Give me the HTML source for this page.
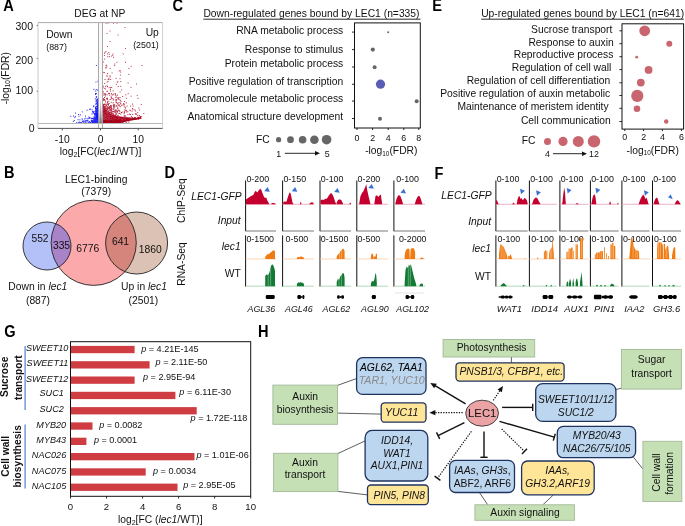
<!DOCTYPE html>
<html><head><meta charset="utf-8"><style>
html,body{margin:0;padding:0;background:#fff;}
svg{display:block;font-family:"Liberation Sans",sans-serif;will-change:transform;}
</style></head><body>
<svg width="685" height="526" viewBox="0 0 685 526">
<rect width="685" height="526" fill="#fff"/>
<text transform="translate(3.2,10.7) scale(1,1.12)" font-size="14.6" font-weight="bold" fill="#000">A</text>
<text transform="translate(3.9,178.0) scale(1,1.12)" font-size="14.6" font-weight="bold" fill="#000">B</text>
<text transform="translate(172.6,11.1) scale(1,1.12)" font-size="14.6" font-weight="bold" fill="#000">C</text>
<text transform="translate(164.4,177.5) scale(1,1.12)" font-size="14.6" font-weight="bold" fill="#000">D</text>
<text transform="translate(432.2,11.2) scale(1,1.12)" font-size="14.6" font-weight="bold" fill="#000">E</text>
<text transform="translate(434.4,178.9) scale(1,1.12)" font-size="14.6" font-weight="bold" fill="#000">F</text>
<text transform="translate(4.3,336.9) scale(1,1.12)" font-size="14.6" font-weight="bold" fill="#000">G</text>
<text transform="translate(258.0,336.7) scale(1,1.12)" font-size="14.6" font-weight="bold" fill="#000">H</text>
<text x="99.80" y="17.30" font-size="10.3" text-anchor="middle" fill="#111">DEG at NP</text>
<rect x="98.50" y="22.60" width="4.00" height="100.90" fill="#f8f8f8" stroke="none" stroke-width="1" rx="0"/>
<path d="M102.8,122.9 L102.8,103 L105,108 L108,112 L112,114.5 L117,116 L125,117.3 L133,117.8 L141.5,117.9 L141.5,118.7 L133,120.3 L125,121.8 L120,122.9 Z" fill="#a8001c"/>
<path d="M98.3,123 L98.3,100 L97.4,101 L97,108 L96.3,114 L95,118.5 L93,121.5 L91,123 Z" fill="#1010f0"/>
<path d="M104.0 107.8h1M104.1 121.2h1M106.5 108.3h1M103.8 122.6h1M105.1 112.1h1M117.3 119.1h1M104.4 115.8h1M105.2 115.0h1M108.9 119.7h1M102.9 115.5h1M109.3 118.1h1M110.8 112.3h1M107.8 107.9h1M103.5 122.3h1M103.2 119.0h1M110.6 106.0h1M111.0 97.8h1M106.2 117.2h1M103.0 122.0h1M109.1 119.7h1M106.2 121.4h1M107.0 122.6h1M111.0 114.7h1M109.1 121.1h1M107.9 122.6h1M104.1 120.0h1M102.4 122.0h1M120.1 122.3h1M104.0 99.6h1M110.8 114.0h1M106.2 122.1h1M108.0 119.6h1M107.0 122.6h1M108.0 111.3h1M119.6 122.6h1M105.2 118.7h1M108.2 118.4h1M121.8 122.6h1M109.3 121.9h1M107.3 120.5h1M106.3 116.4h1M107.7 120.6h1M108.5 117.5h1M105.3 120.0h1M124.3 121.1h1M106.0 114.7h1M103.5 121.8h1M120.9 112.5h1M103.7 115.7h1M112.2 118.0h1M118.2 119.6h1M107.0 121.0h1M109.9 115.3h1M104.0 110.6h1M106.0 122.6h1M104.8 122.2h1M109.6 120.9h1M111.0 93.9h1M106.6 115.5h1M111.6 111.6h1M109.4 116.9h1M108.0 120.0h1M106.0 112.8h1M108.2 116.3h1M110.7 121.7h1M108.1 115.4h1M106.0 122.6h1M110.3 111.1h1M104.2 122.6h1M109.9 122.6h1M108.5 121.1h1M105.6 121.0h1M115.5 117.6h1M104.6 116.5h1M106.8 98.2h1M108.2 115.0h1M109.8 120.9h1M107.1 102.1h1M103.9 120.5h1M105.3 120.9h1M105.3 120.9h1M108.6 120.9h1M114.4 120.4h1M108.3 120.5h1M103.0 117.2h1M103.9 119.3h1M105.2 114.7h1M104.1 122.6h1M102.8 116.9h1M106.2 118.3h1M104.6 113.1h1M106.9 121.6h1M104.9 95.9h1M105.5 113.3h1M112.7 102.9h1M113.0 111.6h1M114.9 116.6h1M104.9 120.3h1M103.8 115.5h1M105.5 116.3h1M110.0 119.7h1M105.8 108.8h1M106.5 116.3h1M109.3 122.3h1M104.5 109.4h1M102.7 120.2h1M124.4 116.1h1M112.3 119.8h1M108.0 121.4h1M103.5 114.8h1M105.8 110.5h1M106.9 117.2h1M105.4 117.8h1M105.6 115.3h1M103.8 122.6h1M104.4 119.3h1M108.4 122.3h1M118.4 110.1h1M126.3 117.8h1M104.3 121.9h1M102.5 110.5h1M105.7 113.3h1M110.8 119.3h1M102.9 108.2h1M102.5 115.2h1M112.6 120.9h1M112.9 119.0h1M108.6 121.6h1M105.3 121.4h1M125.6 122.6h1M108.3 115.3h1M104.0 121.2h1M104.7 119.6h1M102.9 122.3h1M103.3 122.6h1M104.1 116.8h1M102.6 119.3h1M120.9 119.7h1M108.9 108.7h1M109.2 107.9h1M104.9 119.3h1M116.4 116.6h1M102.4 110.4h1M104.4 114.6h1M105.6 116.3h1M105.9 114.4h1M108.6 103.5h1M104.3 122.2h1M104.2 104.4h1M116.8 111.4h1M116.7 112.3h1M110.8 115.5h1M113.5 121.3h1M108.3 122.2h1M109.3 120.3h1M109.3 122.1h1M107.6 120.1h1M116.3 110.1h1M107.7 113.5h1M111.3 122.4h1M118.7 121.4h1M113.5 119.6h1M103.2 119.9h1M104.9 114.1h1M110.2 116.6h1M112.3 113.2h1M115.4 116.6h1M108.7 121.4h1M117.3 103.3h1M110.6 122.6h1M102.7 106.5h1M104.8 114.5h1M104.7 116.5h1M103.1 121.1h1M104.7 120.6h1M105.4 104.3h1M114.5 122.6h1M102.8 117.2h1M108.7 108.1h1M113.2 121.5h1M106.8 115.9h1M108.4 116.9h1M115.8 122.4h1M106.4 122.5h1M112.7 109.5h1M113.7 117.9h1M106.6 118.7h1M108.5 121.6h1M102.6 119.7h1M124.7 121.0h1M104.2 116.8h1M105.6 119.0h1M106.6 113.2h1M104.1 121.5h1M107.4 120.3h1M111.2 108.5h1M106.5 116.9h1M104.3 120.0h1M102.9 119.7h1M104.0 122.5h1M106.2 118.4h1M102.9 117.2h1M108.8 118.8h1M106.0 113.4h1M116.4 111.1h1M103.4 105.2h1M103.4 122.6h1M112.8 122.6h1M102.7 107.6h1M123.9 112.4h1M128.3 122.1h1M110.4 119.0h1M104.1 117.4h1M102.4 119.5h1M110.1 118.4h1M105.5 122.6h1M106.2 114.8h1M106.2 122.6h1M104.3 120.9h1M102.8 122.3h1M107.8 105.8h1M105.1 120.8h1M109.1 112.2h1M105.6 116.0h1M106.0 122.1h1M107.4 108.4h1M119.3 111.2h1M116.8 119.8h1M103.7 118.2h1M104.8 119.5h1M103.3 118.7h1M102.9 121.1h1M106.7 122.1h1M105.3 112.2h1M111.7 121.3h1M107.0 101.9h1M123.7 119.7h1M105.2 121.7h1M113.5 121.5h1M108.8 122.2h1M102.6 112.0h1M104.0 114.6h1M108.8 121.8h1M109.4 116.2h1M104.9 117.5h1M103.0 122.1h1M105.1 121.2h1M104.8 114.8h1M102.7 112.4h1M106.4 117.5h1M104.0 117.1h1M104.3 121.7h1M104.5 114.5h1M114.8 122.0h1M112.1 115.4h1M103.6 122.3h1M113.4 106.5h1M105.9 122.0h1M111.1 120.9h1M118.1 119.7h1M115.9 117.6h1M111.4 117.7h1M102.9 118.6h1M105.4 116.9h1M107.6 120.5h1M105.5 121.4h1M111.5 118.9h1M110.8 110.6h1M116.7 120.9h1M105.7 120.5h1M105.6 121.0h1M107.2 120.8h1M112.7 120.3h1M102.5 113.4h1M115.8 113.3h1M103.2 122.6h1M109.9 107.0h1M107.1 121.9h1M105.0 119.7h1M109.9 118.3h1M105.7 115.1h1M108.4 93.4h1M106.0 122.5h1M105.7 117.8h1M114.9 118.0h1M112.5 122.6h1M103.2 100.0h1M105.5 121.9h1M102.5 120.3h1M107.9 120.8h1M109.6 122.0h1M106.1 114.2h1M111.2 113.5h1M108.7 112.5h1M103.4 119.5h1M104.5 119.0h1M115.0 118.3h1M112.5 121.7h1M103.7 113.4h1M119.9 118.2h1M103.4 118.9h1M116.7 119.7h1M102.6 106.9h1M102.6 117.5h1M114.6 121.8h1M105.5 111.2h1M103.2 117.9h1M105.2 117.6h1M104.2 122.0h1M103.1 120.0h1M106.7 110.7h1M114.8 115.4h1M109.1 106.8h1M103.4 118.3h1M123.0 122.0h1M110.5 119.3h1M121.0 121.9h1M114.5 120.1h1M106.0 121.7h1M102.9 122.3h1M109.4 121.6h1M109.8 119.1h1M104.0 114.3h1M103.8 120.8h1M108.1 122.6h1M106.2 121.4h1M124.6 107.2h1M115.0 122.6h1M106.2 117.9h1M105.6 120.0h1M111.1 116.9h1M105.3 122.3h1M105.3 112.4h1M109.6 118.1h1M104.2 120.0h1M103.5 121.1h1M106.6 114.8h1M102.6 113.7h1M118.3 110.7h1M105.5 119.7h1M107.8 120.2h1M114.4 122.6h1M103.5 121.1h1M105.4 121.5h1M106.0 122.3h1M102.6 121.6h1M105.0 118.9h1M105.0 121.1h1M102.4 122.4h1M102.8 120.9h1M113.2 114.7h1M108.0 104.3h1M105.0 112.0h1M102.8 122.2h1M103.9 115.3h1M105.0 116.0h1M106.7 115.0h1M106.8 120.2h1M103.3 115.6h1M103.1 122.4h1M107.5 122.0h1M105.5 118.7h1M103.3 104.5h1M103.1 110.2h1M102.9 119.2h1M107.2 116.7h1M113.2 105.0h1M104.7 121.4h1M113.5 122.3h1M106.6 119.8h1M104.6 107.6h1M111.3 122.6h1M106.8 99.0h1M107.1 120.8h1M104.9 121.6h1M104.6 113.3h1M104.7 117.4h1M116.0 118.6h1M108.3 121.0h1M104.1 120.0h1M140.6 116.9h1M126.4 118.9h1M127.2 120.4h1M132.4 119.4h1M114.3 121.3h1M126.3 120.3h1M125.0 120.8h1M140.0 117.3h1M124.2 120.5h1M131.6 118.0h1M116.7 121.4h1M137.6 118.2h1M134.8 117.6h1M140.5 116.6h1M137.4 117.2h1M119.4 121.5h1M137.9 117.5h1M134.8 119.3h1M124.0 120.4h1M134.1 117.7h1M134.9 118.3h1M139.7 116.7h1M139.2 117.4h1M137.8 117.4h1M128.8 118.8h1M135.8 119.1h1M121.5 119.9h1M137.8 119.2h1M128.0 120.6h1M124.0 120.0h1" stroke="#a8001c" stroke-width="1" fill="none"/>
<path d="M137.5 98.3h1M110.9 119.5h1M102.8 86.2h1M128.4 68.5h1M105.0 86.3h1M130.9 116.5h1M122.3 105.1h1M108.8 56.6h1M116.5 116.2h1M102.4 91.4h1M109.8 107.8h1M103.3 113.1h1M110.1 109.6h1M106.5 94.8h1M105.8 115.8h1M115.7 102.7h1M130.7 66.3h1M103.4 118.4h1M110.2 79.4h1M102.6 114.3h1M105.1 115.7h1M106.5 85.9h1M103.0 106.6h1M110.7 96.8h1M108.2 93.7h1M119.5 78.7h1M103.2 113.5h1M109.6 109.6h1M103.3 113.4h1M106.7 82.1h1M124.8 118.0h1M134.9 113.7h1M107.0 109.1h1M126.1 98.3h1M103.6 116.3h1M112.8 105.6h1M138.9 110.0h1M118.8 105.9h1M103.8 94.3h1M110.0 112.6h1M105.8 116.4h1M108.2 116.8h1M107.1 73.5h1M106.6 117.7h1M114.3 105.0h1M107.6 107.5h1M109.6 99.5h1M104.7 100.3h1M104.6 116.9h1M115.4 95.5h1M103.4 119.4h1M118.3 98.0h1M124.7 119.8h1M105.7 113.0h1M103.8 88.4h1M105.5 105.6h1M129.5 118.4h1M104.9 106.8h1M114.2 110.9h1M106.2 66.9h1M102.8 108.8h1M105.0 93.9h1M115.7 96.9h1M103.5 108.5h1M110.8 107.2h1M103.1 105.0h1M138.4 108.0h1M127.7 93.6h1M106.1 111.9h1M118.8 99.8h1M116.7 82.1h1M109.6 115.4h1M103.8 106.7h1M108.8 54.2h1M118.5 113.5h1M125.8 102.9h1M103.7 115.0h1M123.2 117.3h1M117.3 107.8h1M104.9 109.2h1M104.3 118.4h1M112.6 90.9h1M111.7 95.1h1M121.7 119.6h1M118.5 102.6h1M115.3 114.7h1M107.9 119.0h1M105.8 108.7h1M103.9 108.4h1M104.2 59.1h1M112.9 108.0h1M103.5 115.0h1M109.5 114.7h1M105.0 101.8h1M106.9 108.1h1M134.2 109.8h1M103.9 119.4h1M102.4 108.7h1M119.9 75.0h1M131.0 118.2h1M104.2 83.5h1M115.2 118.5h1M126.6 106.1h1M104.8 118.7h1M110.8 109.9h1M115.7 99.7h1M135.4 118.1h1M112.5 94.6h1M120.5 101.7h1M116.4 106.4h1M103.4 95.1h1M108.7 87.7h1M115.7 99.9h1M120.9 105.3h1M103.3 117.3h1M113.5 105.5h1M102.9 117.8h1M137.2 112.7h1M132.0 104.1h1M108.2 110.9h1M122.4 120.0h1M123.6 104.1h1M118.8 104.9h1M116.0 100.0h1M124.5 116.6h1M132.4 109.3h1M108.0 114.2h1M121.7 119.7h1M109.6 109.0h1M108.6 117.7h1M111.1 117.7h1M106.8 109.5h1M113.6 117.7h1M117.5 97.5h1M115.4 110.7h1M104.2 106.5h1M109.7 117.3h1M104.0 119.3h1M115.5 78.4h1M107.0 86.6h1M108.9 110.3h1M125.3 94.8h1M106.9 104.3h1M123.6 116.0h1M117.8 86.5h1M123.7 113.7h1M130.5 87.3h1M114.5 106.8h1M102.6 110.3h1M107.0 111.9h1M107.2 115.3h1M103.9 72.6h1M110.0 87.8h1M104.6 112.5h1M102.6 107.3h1M120.0 103.1h1M109.2 95.3h1M129.0 114.2h1M125.2 108.1h1M104.0 117.1h1M108.6 118.5h1M105.1 94.3h1M105.0 111.9h1M107.3 113.6h1M123.1 103.6h1M111.1 113.9h1M110.3 110.4h1M109.3 119.5h1M120.4 114.2h1M117.1 108.6h1M102.4 87.5h1M102.6 117.8h1M110.5 99.0h1M107.1 91.2h1M115.9 114.2h1M116.4 62.2h1M115.3 97.6h1M105.0 116.7h1M115.0 93.7h1M106.8 111.8h1M113.4 106.1h1M104.5 104.1h1M113.7 107.4h1M125.3 110.2h1M108.9 117.0h1M127.4 114.6h1M105.3 118.5h1M106.7 114.1h1M123.7 106.1h1M114.8 94.6h1M114.2 118.3h1M103.9 115.3h1M103.1 109.1h1M103.2 118.6h1M108.4 78.3h1M120.3 103.9h1M103.0 110.5h1M113.2 115.2h1M118.6 118.0h1M110.9 115.4h1M106.9 106.6h1M112.0 119.9h1M127.3 111.7h1M132.2 114.4h1M136.0 114.0h1M109.9 89.5h1M104.4 115.9h1M103.1 110.6h1M131.7 111.1h1M110.8 102.3h1M114.3 64.0h1M107.3 117.5h1M106.1 119.3h1M106.1 118.6h1M106.3 112.1h1M117.9 99.1h1M105.2 118.3h1M117.2 115.1h1M114.4 112.4h1M137.2 115.4h1M114.7 117.9h1M115.2 110.7h1M107.5 81.3h1M132.0 117.7h1M130.0 114.5h1M125.0 62.3h1M113.5 108.2h1M105.1 89.0h1M102.9 113.2h1M103.2 119.7h1M109.6 76.9h1M135.0 110.9h1M115.5 101.9h1M114.1 65.7h1M103.4 116.5h1M103.3 100.4h1M107.7 79.5h1M113.4 93.9h1M107.2 112.8h1M117.4 119.5h1M126.2 112.0h1M110.3 106.5h1M106.0 105.9h1M116.3 116.4h1M111.3 112.8h1M107.1 102.9h1M132.1 108.5h1M124.5 115.4h1M118.0 118.6h1M105.1 108.4h1M106.4 91.6h1M104.2 110.6h1M130.5 96.2h1M104.2 118.1h1M106.9 112.7h1M119.8 106.7h1M124.1 109.9h1M114.9 111.2h1M108.8 117.7h1M130.1 110.7h1M113.5 119.9h1M119.5 97.5h1M117.6 117.1h1M112.9 116.7h1M107.1 117.6h1M105.4 109.5h1M108.5 107.4h1M118.9 113.4h1M110.7 107.3h1M125.7 117.3h1M106.5 99.0h1M107.6 119.7h1M115.9 105.6h1M111.7 116.2h1M116.1 102.7h1M129.3 110.3h1M102.8 99.8h1M106.5 75.3h1M111.1 109.3h1M103.1 116.9h1M109.3 115.4h1M127.6 83.0h1M115.2 99.9h1M121.8 112.1h1M115.0 112.8h1M117.8 105.5h1M106.5 115.4h1M115.8 84.3h1M117.0 95.1h1M108.4 79.5h1M119.5 118.7h1M107.3 120.0h1M111.7 98.5h1M102.7 92.0h1M108.3 101.1h1M120.1 100.3h1M107.0 98.8h1M110.9 105.9h1M103.2 99.2h1M105.3 112.8h1M111.1 87.4h1M106.6 107.2h1M109.9 91.1h1M111.8 114.1h1M106.5 104.0h1M123.6 104.5h1M121.2 89.9h1M117.5 104.3h1M109.6 107.4h1M136.7 95.6h1M123.7 111.6h1M111.8 111.2h1M107.5 114.1h1M105.0 109.9h1M106.2 98.5h1M103.7 104.3h1M113.0 99.0h1M102.5 113.8h1M111.0 115.1h1M117.4 98.7h1M107.7 115.7h1M107.8 109.0h1M120.3 81.5h1M104.0 97.5h1M122.1 96.5h1M104.6 79.5h1M114.6 109.6h1M106.2 119.5h1M121.3 119.9h1M121.5 118.5h1M123.3 118.6h1M125.3 110.8h1M117.9 115.9h1M113.7 104.6h1M117.4 81.8h1M124.0 101.6h1M113.1 113.9h1M104.6 114.6h1M128.3 74.4h1M105.8 105.4h1M110.2 105.5h1M109.0 93.6h1M119.3 113.4h1M102.8 98.5h1M105.2 106.6h1M129.9 106.1h1M128.9 117.8h1M126.1 110.7h1M138.9 115.5h1M119.6 91.9h1M118.7 71.0h1M110.7 119.3h1M132.6 106.0h1M107.8 117.6h1M114.3 111.6h1M135.5 114.5h1M105.7 109.8h1M120.3 86.3h1M103.6 93.5h1M112.7 100.1h1" stroke="#bb3048" stroke-width="1" fill="none"/>
<path d="M107.2 56.8h1M106.2 65.2h1M104.6 52.4h1M112.1 55.3h1M105.6 68.0h1M109.6 75.7h1M106.6 76.6h1M104.0 53.3h1M102.8 72.4h1M109.7 68.5h1M105.2 67.6h1M105.4 65.6h1M111.6 72.9h1M111.1 56.1h1M108.2 52.6h1M120.2 72.1h1M103.1 62.1h1M103.9 55.5h1M122.7 53.9h1M119.7 70.6h1M113.0 57.3h1M105.4 51.5h1M105.5 23.2h1M107.5 23.2h1M113.0 23.2h1M116.5 23.2h1M124.5 27.5h1M109.5 31.0h1M106.5 33.5h1M117.5 35.0h1M109.5 41.5h1M107.0 46.5h1M125.0 48.5h1M107.0 54.0h1M112.5 54.0h1M141.5 65.5h1M136.0 84.0h1M143.3 113.5h1M140.8 104.5h1" stroke="#c04058" stroke-width="1" fill="none"/>
<path d="M87.7 122.3h1M94.2 120.3h1M96.0 114.9h1M96.2 121.8h1M96.7 109.9h1M94.5 113.6h1M96.3 120.5h1M96.9 109.9h1M94.0 119.7h1M96.5 116.5h1M96.5 113.4h1M97.0 122.6h1M96.2 120.8h1M86.2 120.6h1M97.0 107.2h1M95.9 111.7h1M97.3 122.6h1M97.5 108.1h1M96.6 121.0h1M97.5 112.0h1M97.1 104.2h1M97.5 121.8h1M95.1 121.1h1M96.3 112.4h1M95.7 120.6h1M97.2 122.6h1M95.7 121.0h1M97.0 109.1h1M88.9 117.8h1M96.4 118.2h1M95.4 122.6h1M96.6 117.9h1M97.6 116.6h1M89.7 109.1h1M96.7 119.2h1M92.5 122.6h1M96.1 117.1h1M96.3 118.4h1M93.0 121.8h1M96.3 113.7h1M95.5 122.3h1M87.2 120.8h1M97.4 122.6h1M95.4 119.6h1M96.9 114.6h1M96.7 122.5h1M93.3 120.7h1M97.6 119.7h1M96.9 107.0h1M96.0 122.6h1M86.6 110.2h1M96.6 116.9h1M96.4 103.9h1M95.7 108.1h1M92.0 122.6h1M96.7 111.4h1M97.5 119.9h1M94.3 119.0h1M96.6 99.3h1M97.4 116.0h1M96.6 116.5h1M95.2 122.6h1M97.7 105.7h1M95.6 121.2h1M95.1 113.3h1M97.0 119.4h1M93.3 118.5h1M93.5 116.9h1M96.8 121.9h1M97.6 116.8h1M95.0 118.5h1M97.1 122.5h1M96.4 115.1h1M97.1 121.3h1M92.0 118.5h1M95.5 107.0h1M93.2 111.5h1M95.0 119.3h1M96.0 108.6h1M96.2 108.9h1M96.6 122.6h1M94.0 121.8h1M92.3 118.3h1M96.4 122.0h1M96.0 120.6h1M95.2 121.5h1M94.6 111.1h1M93.3 122.3h1M96.7 118.1h1M96.2 110.1h1M95.3 111.4h1M96.9 109.1h1M96.7 113.5h1M95.8 106.4h1M96.8 121.5h1M96.3 111.1h1M95.0 107.8h1M97.1 111.6h1M97.1 122.5h1M97.2 116.6h1M95.1 112.2h1M95.4 112.0h1M95.8 122.2h1M96.6 115.9h1M96.8 113.7h1M96.2 103.7h1M95.7 118.8h1M96.8 111.6h1M97.3 121.5h1M95.9 114.2h1M97.2 118.4h1M94.7 121.7h1M94.8 117.2h1M97.6 111.2h1M91.5 113.9h1M95.6 113.9h1M96.8 106.5h1M95.3 108.7h1M93.3 105.8h1M93.8 113.5h1M95.3 111.2h1M96.6 122.6h1M97.4 116.5h1M97.4 99.6h1M97.0 121.6h1M93.2 118.2h1M91.7 121.2h1M97.4 114.7h1M97.1 115.6h1M97.5 118.6h1M96.8 111.6h1M96.9 120.7h1M97.1 99.6h1M97.5 119.6h1M97.5 110.0h1M96.9 118.5h1M89.4 109.4h1M96.1 102.0h1M96.9 121.4h1M91.6 109.9h1M94.0 121.3h1M91.0 120.2h1M94.2 120.0h1M95.9 114.2h1M95.2 108.5h1M93.1 106.7h1M95.7 114.4h1M96.0 121.5h1M97.0 120.3h1M96.0 122.2h1M96.6 120.7h1M96.3 114.0h1M97.4 112.9h1M97.5 115.1h1M96.4 100.2h1M96.4 119.9h1M95.5 122.0h1M97.1 112.7h1M97.4 111.7h1M97.1 112.1h1M97.1 118.1h1M93.2 112.5h1M97.0 109.8h1M97.0 121.9h1M93.5 121.6h1M96.3 114.7h1M97.5 122.4h1M97.4 119.0h1M96.4 110.2h1M96.7 120.3h1M95.7 100.1h1M94.3 118.3h1M96.3 120.7h1M92.2 111.8h1M97.7 117.7h1M92.5 120.1h1M85.2 120.9h1M97.0 112.1h1M94.4 115.1h1M95.1 122.0h1M96.0 116.7h1M91.8 120.9h1M94.1 122.3h1M97.4 119.2h1M96.1 109.8h1M97.4 122.2h1M96.8 120.0h1M96.7 122.6h1M97.2 120.7h1M93.5 121.7h1M96.2 122.6h1M96.5 121.9h1M95.3 114.2h1M96.7 122.6h1M95.1 108.5h1M96.6 122.6h1M96.8 117.1h1M95.9 96.7h1M95.1 122.6h1M96.4 109.4h1M96.9 116.7h1M97.7 116.5h1M97.5 118.3h1M96.3 120.6h1M95.1 104.1h1M96.2 117.6h1M97.0 122.6h1M94.1 120.5h1M95.1 122.6h1M97.5 122.6h1M95.2 93.8h1M95.5 101.7h1M94.9 121.1h1M94.9 115.8h1M95.5 122.6h1M96.2 119.1h1M97.3 116.7h1M91.6 121.0h1M84.7 122.4h1M94.2 114.2h1M94.4 122.6h1M95.0 93.7h1M94.2 114.8h1M97.0 122.0h1M97.0 119.2h1M96.4 119.7h1M97.6 116.6h1M96.2 118.9h1M96.5 115.4h1M96.5 113.7h1" stroke="#1515f5" stroke-width="1" fill="none"/>
<path d="M95.4 118.1h1M88.4 117.0h1M94.5 121.0h1M76.2 122.6h1M96.1 118.7h1M96.8 121.5h1M79.7 122.6h1M89.9 122.3h1M96.0 121.0h1M72.9 121.4h1M95.7 122.3h1M97.6 122.6h1M94.0 117.4h1M93.7 119.3h1M95.6 122.3h1M81.8 121.7h1M93.3 119.5h1M77.5 119.7h1M92.0 111.9h1M90.5 122.6h1M85.0 116.1h1M79.4 119.8h1M87.4 120.1h1M73.0 116.1h1M97.5 120.8h1M94.8 121.0h1M79.1 122.1h1M90.7 120.3h1M80.0 114.9h1M75.0 113.1h1M95.1 122.1h1M78.5 116.2h1M89.0 121.8h1M97.2 121.7h1M85.2 118.3h1M85.6 122.6h1M88.9 118.4h1M95.9 122.6h1M96.2 118.3h1M74.9 116.4h1M79.6 122.6h1M83.4 121.2h1M81.8 119.9h1M91.7 120.8h1M81.8 111.9h1M93.3 121.3h1M89.9 122.6h1M97.7 120.0h1M94.2 119.3h1M86.8 120.8h1M81.7 118.9h1M95.4 119.3h1M81.2 122.5h1M94.3 116.9h1M91.8 120.6h1M95.2 118.8h1M88.8 121.8h1M95.8 121.4h1M91.3 121.4h1M86.7 118.7h1M94.8 115.5h1M93.4 113.7h1M94.8 119.5h1M73.8 120.5h1M84.1 119.0h1M85.5 121.1h1M88.4 122.4h1M91.7 121.7h1M88.4 118.4h1M84.6 121.2h1M88.9 121.5h1M90.3 117.8h1M93.9 121.8h1M77.9 122.3h1M92.3 122.0h1M95.5 113.9h1M94.6 120.8h1M90.9 118.5h1M82.1 121.4h1M91.1 121.5h1M83.4 122.0h1M94.0 120.4h1M83.4 120.9h1M82.9 122.1h1M93.2 122.3h1M93.0 122.5h1M74.3 117.6h1M96.5 121.0h1M78.1 114.5h1M97.2 121.1h1M96.3 103.7h1M96.8 108.0h1M97.3 107.1h1M96.3 112.4h1M95.2 91.1h1M96.4 106.2h1M96.2 97.1h1M95.2 94.5h1M95.3 110.9h1M96.9 109.6h1M97.0 99.0h1M96.5 110.3h1M97.5 81.2h1M97.2 112.5h1M97.0 103.2h1M96.7 112.0h1M97.4 104.4h1M95.9 108.7h1M97.1 90.2h1M95.6 109.6h1M94.9 107.3h1M95.9 93.4h1M95.3 109.1h1M94.8 98.8h1M95.9 100.6h1M96.8 111.4h1M97.3 102.1h1M95.8 97.2h1M97.2 101.5h1M96.1 112.2h1M96.9 102.4h1M97.6 100.9h1M95.8 89.5h1M95.5 82.1h1M95.6 110.0h1M97.5 107.9h1M95.7 109.8h1M95.0 111.3h1M93.4 89.3h1M96.9 112.0h1" stroke="#3030f5" stroke-width="1" fill="none"/>
<path d="M95.9 65.5h1" stroke="#2a2af5" stroke-width="1" fill="none"/>
<path d="M70.3 116.3h1" stroke="#3a3af5" stroke-width="1" fill="none"/>
<path d="M99.2,123.4 L100.3,100 L100.8,100 L101.9,123.4 Z" fill="url(#gband)"/>
<line x1="38.00" y1="22.60" x2="162.60" y2="22.60" stroke="#aaaaaa" stroke-width="1"/>
<line x1="162.60" y1="22.60" x2="162.60" y2="128.40" stroke="#d0d0d0" stroke-width="1"/>
<line x1="38.00" y1="22.60" x2="38.00" y2="128.40" stroke="#c8c8c8" stroke-width="1"/>
<line x1="98.50" y1="22.60" x2="98.50" y2="128.40" stroke="#a0a0a0" stroke-width="0.9"/>
<line x1="102.50" y1="22.60" x2="102.50" y2="128.40" stroke="#a0a0a0" stroke-width="0.9"/>
<line x1="38.00" y1="123.50" x2="162.60" y2="123.50" stroke="#b8b8b8" stroke-width="1"/>
<line x1="38.00" y1="128.40" x2="162.60" y2="128.40" stroke="#555" stroke-width="1"/>
<line x1="36.60" y1="25.40" x2="38.00" y2="25.40" stroke="#888" stroke-width="1"/>
<line x1="36.60" y1="58.40" x2="38.00" y2="58.40" stroke="#888" stroke-width="1"/>
<line x1="36.60" y1="91.30" x2="38.00" y2="91.30" stroke="#888" stroke-width="1"/>
<line x1="62.30" y1="128.40" x2="62.30" y2="130.40" stroke="#555" stroke-width="1"/>
<line x1="100.50" y1="128.40" x2="100.50" y2="130.40" stroke="#555" stroke-width="1"/>
<line x1="138.20" y1="128.40" x2="138.20" y2="130.40" stroke="#555" stroke-width="1"/>
<text x="33.00" y="29.90" font-size="10.5" text-anchor="end" fill="#111">300</text>
<text x="33.00" y="64.00" font-size="10.5" text-anchor="end" fill="#111">200</text>
<text x="33.00" y="93.80" font-size="10.5" text-anchor="end" fill="#111">100</text>
<text x="34.60" y="131.90" font-size="10.5" text-anchor="end" fill="#111">0</text>
<text x="62.30" y="142.60" font-size="10.3" text-anchor="middle" fill="#111">-10</text>
<text x="100.50" y="142.60" font-size="10.3" text-anchor="middle" fill="#111">0</text>
<text x="138.20" y="142.60" font-size="10.3" text-anchor="middle" fill="#111">10</text>
<text x="100.50" y="155.20" font-size="10.3" text-anchor="middle" fill="#111">log<tspan font-size="7" dy="2">2</tspan><tspan dy="-2">[FC(</tspan><tspan font-style="italic">lec1</tspan>/WT)]</text>
<text transform="translate(8.6,78.2) rotate(-90)" font-size="10.3" text-anchor="middle" fill="#111">-log<tspan font-size="6.4" dy="1.2">10</tspan><tspan dy="-1.2">(FDR)</tspan></text>
<text x="46.20" y="37.60" font-size="10.3" text-anchor="start" fill="#111">Down</text>
<text x="46.20" y="49.80" font-size="8.9" text-anchor="start" fill="#111">(887)</text>
<text x="158.80" y="36.00" font-size="10.3" text-anchor="end" fill="#111">Up</text>
<text x="158.80" y="47.80" font-size="8.9" text-anchor="end" fill="#111">(2501)</text>
<defs><clipPath id="cpk"><circle cx="93.7" cy="242.8" r="42.6"/></clipPath><linearGradient id="gband" x1="0" y1="0" x2="0" y2="1"><stop offset="0" stop-color="#e0e0e0"/><stop offset="1" stop-color="#707070"/></linearGradient></defs>
<circle cx="93.70" cy="242.80" r="42.60" fill="#fca9ac" stroke="none" stroke-width="1"/>
<circle cx="47.00" cy="246.00" r="24.00" fill="#b4c1f8" stroke="none" stroke-width="1"/>
<circle cx="136.60" cy="243.00" r="31.00" fill="#dcc2b4" stroke="none" stroke-width="1"/>
<circle cx="47.00" cy="246.00" r="24.00" fill="#a883c8" stroke="none" stroke-width="1" clip-path="url(#cpk)"/>
<circle cx="136.60" cy="243.00" r="31.00" fill="#d5857c" stroke="none" stroke-width="1" clip-path="url(#cpk)"/>
<circle cx="93.70" cy="242.80" r="42.60" fill="none" stroke="#222" stroke-width="0.9"/>
<circle cx="47.00" cy="246.00" r="24.00" fill="none" stroke="#222" stroke-width="0.9"/>
<circle cx="136.60" cy="243.00" r="31.00" fill="none" stroke="#222" stroke-width="0.9"/>
<text x="96.20" y="182.50" font-size="10.3" text-anchor="middle" fill="#111">LEC1-binding</text>
<text x="96.20" y="194.80" font-size="10.3" text-anchor="middle" fill="#111">(7379)</text>
<text x="40.00" y="241.60" font-size="10.3" text-anchor="middle" fill="#111">552</text>
<text x="61.50" y="248.80" font-size="10.3" text-anchor="middle" fill="#111">335</text>
<text x="87.70" y="251.80" font-size="10.3" text-anchor="middle" fill="#111">6776</text>
<text x="120.50" y="245.30" font-size="10.3" text-anchor="middle" fill="#111">641</text>
<text x="150.20" y="253.30" font-size="10.3" text-anchor="middle" fill="#111">1860</text>
<text x="37.80" y="290.00" font-size="10.3" text-anchor="middle" fill="#111">Down in <tspan font-style="italic">lec1</tspan></text>
<text x="38.00" y="303.60" font-size="10.3" text-anchor="middle" fill="#111">(887)</text>
<text x="144.00" y="290.00" font-size="10.3" text-anchor="middle" fill="#111">Up in <tspan font-style="italic">lec1</tspan></text>
<text x="143.40" y="303.60" font-size="10.3" text-anchor="middle" fill="#111">(2501)</text>
<text x="203.40" y="16.80" font-size="10.3" text-anchor="start" fill="#111">Down-regulated genes bound by LEC1 (n=335)</text>
<line x1="203.40" y1="19.20" x2="420.50" y2="19.20" stroke="#111" stroke-width="0.9"/>
<text x="343.20" y="33.90" font-size="10.3" text-anchor="end" fill="#111">RNA metabolic process</text>
<text x="343.20" y="52.60" font-size="10.3" text-anchor="end" fill="#111">Response to stimulus</text>
<text x="343.20" y="67.30" font-size="10.3" text-anchor="end" fill="#111">Protein metabolic process</text>
<text x="343.20" y="84.80" font-size="10.3" text-anchor="end" fill="#111">Positive regulation of transcription</text>
<text x="343.20" y="102.40" font-size="10.3" text-anchor="end" fill="#111">Macromolecule metabolic process</text>
<text x="343.20" y="119.60" font-size="10.3" text-anchor="end" fill="#111">Anatomical structure development</text>
<rect x="354.50" y="22.90" width="65.80" height="105.10" fill="none" stroke="#111" stroke-width="1" rx="0"/>
<line x1="352.00" y1="32.10" x2="354.50" y2="32.10" stroke="#111" stroke-width="0.9"/>
<line x1="352.00" y1="49.60" x2="354.50" y2="49.60" stroke="#111" stroke-width="0.9"/>
<line x1="352.00" y1="67.00" x2="354.50" y2="67.00" stroke="#111" stroke-width="0.9"/>
<line x1="352.00" y1="84.30" x2="354.50" y2="84.30" stroke="#111" stroke-width="0.9"/>
<line x1="352.00" y1="101.10" x2="354.50" y2="101.10" stroke="#111" stroke-width="0.9"/>
<line x1="352.00" y1="118.50" x2="354.50" y2="118.50" stroke="#111" stroke-width="0.9"/>
<circle cx="388.20" cy="32.30" r="1.00" fill="#666" stroke="none" stroke-width="1"/>
<circle cx="372.80" cy="49.60" r="2.10" fill="#666" stroke="none" stroke-width="1"/>
<circle cx="374.60" cy="67.20" r="2.00" fill="#666" stroke="none" stroke-width="1"/>
<circle cx="380.50" cy="84.20" r="4.60" fill="#5a5db6" stroke="none" stroke-width="1"/>
<circle cx="416.70" cy="101.30" r="2.00" fill="#666" stroke="none" stroke-width="1"/>
<circle cx="380.00" cy="118.80" r="2.00" fill="#666" stroke="none" stroke-width="1"/>
<line x1="357.00" y1="128.00" x2="357.00" y2="130.00" stroke="#111" stroke-width="0.9"/>
<text x="357.00" y="140.60" font-size="8.9" text-anchor="middle" fill="#111">0</text>
<line x1="372.60" y1="128.00" x2="372.60" y2="130.00" stroke="#111" stroke-width="0.9"/>
<text x="372.60" y="140.60" font-size="8.9" text-anchor="middle" fill="#111">2</text>
<line x1="388.20" y1="128.00" x2="388.20" y2="130.00" stroke="#111" stroke-width="0.9"/>
<text x="388.20" y="140.60" font-size="8.9" text-anchor="middle" fill="#111">4</text>
<line x1="403.80" y1="128.00" x2="403.80" y2="130.00" stroke="#111" stroke-width="0.9"/>
<text x="403.80" y="140.60" font-size="8.9" text-anchor="middle" fill="#111">6</text>
<line x1="418.80" y1="128.00" x2="418.80" y2="130.00" stroke="#111" stroke-width="0.9"/>
<text x="418.80" y="140.60" font-size="8.9" text-anchor="middle" fill="#111">8</text>
<text x="391.30" y="154.30" font-size="10.3" text-anchor="middle" fill="#111">-log<tspan font-size="6.4" dy="1.2">10</tspan><tspan dy="-1.2">(FDR)</tspan></text>
<text x="256.00" y="143.30" font-size="10.3" text-anchor="start" fill="#111">FC</text>
<circle cx="278.60" cy="139.70" r="2.60" fill="#666" stroke="none" stroke-width="1"/>
<circle cx="290.50" cy="139.70" r="3.40" fill="#666" stroke="none" stroke-width="1"/>
<circle cx="302.60" cy="139.70" r="3.80" fill="#666" stroke="none" stroke-width="1"/>
<circle cx="314.40" cy="139.70" r="4.30" fill="#666" stroke="none" stroke-width="1"/>
<circle cx="326.60" cy="139.70" r="4.80" fill="#666" stroke="none" stroke-width="1"/>
<text x="278.60" y="156.60" font-size="8.9" text-anchor="middle" fill="#111">1</text>
<text x="327.20" y="156.60" font-size="8.9" text-anchor="middle" fill="#111">5</text>
<line x1="284.80" y1="153.30" x2="316.00" y2="153.30" stroke="#111" stroke-width="0.9"/>
<path d="M315,151.1 L320,153.3 L315,155.5 Z" fill="#111"/>
<text x="481.20" y="16.80" font-size="10.3" text-anchor="start" fill="#111">Up-regulated genes bound by LEC1 (n=641)</text>
<line x1="481.20" y1="19.20" x2="683.80" y2="19.20" stroke="#111" stroke-width="0.9"/>
<text x="612.40" y="32.50" font-size="10.3" text-anchor="end" fill="#111">Sucrose transport</text>
<text x="613.70" y="45.80" font-size="10.3" text-anchor="end" fill="#111">Response to auxin</text>
<text x="613.30" y="57.60" font-size="10.3" text-anchor="end" fill="#111">Reproductive process</text>
<text x="611.30" y="71.00" font-size="10.3" text-anchor="end" fill="#111">Regulation of cell wall</text>
<text x="610.20" y="84.10" font-size="10.3" text-anchor="end" fill="#111">Regulation of cell differentiation</text>
<text x="610.20" y="96.90" font-size="10.3" text-anchor="end" fill="#111">Positive regulation of auxin metabolic</text>
<text x="608.60" y="109.70" font-size="10.3" text-anchor="end" fill="#111">Maintenance of meristem identity</text>
<text x="610.80" y="123.50" font-size="10.3" text-anchor="end" fill="#111">Cell communication</text>
<rect x="622.00" y="23.80" width="61.60" height="105.30" fill="none" stroke="#111" stroke-width="1" rx="0"/>
<line x1="619.40" y1="30.80" x2="622.00" y2="30.80" stroke="#111" stroke-width="0.9"/>
<line x1="619.40" y1="43.70" x2="622.00" y2="43.70" stroke="#111" stroke-width="0.9"/>
<line x1="619.40" y1="56.70" x2="622.00" y2="56.70" stroke="#111" stroke-width="0.9"/>
<line x1="619.40" y1="69.60" x2="622.00" y2="69.60" stroke="#111" stroke-width="0.9"/>
<line x1="619.40" y1="82.80" x2="622.00" y2="82.80" stroke="#111" stroke-width="0.9"/>
<line x1="619.40" y1="95.50" x2="622.00" y2="95.50" stroke="#111" stroke-width="0.9"/>
<line x1="619.40" y1="108.30" x2="622.00" y2="108.30" stroke="#111" stroke-width="0.9"/>
<line x1="619.40" y1="121.50" x2="622.00" y2="121.50" stroke="#111" stroke-width="0.9"/>
<circle cx="644.70" cy="30.80" r="5.40" fill="#c9656f" stroke="none" stroke-width="1"/>
<circle cx="669.30" cy="43.70" r="3.00" fill="#c9656f" stroke="none" stroke-width="1"/>
<circle cx="636.70" cy="57.20" r="1.40" fill="#c9656f" stroke="none" stroke-width="1"/>
<circle cx="648.60" cy="69.90" r="3.90" fill="#c9656f" stroke="none" stroke-width="1"/>
<circle cx="640.80" cy="82.60" r="3.90" fill="#c9656f" stroke="none" stroke-width="1"/>
<circle cx="637.30" cy="95.90" r="6.10" fill="#c9656f" stroke="none" stroke-width="1"/>
<circle cx="637.00" cy="108.80" r="3.30" fill="#c9656f" stroke="none" stroke-width="1"/>
<circle cx="666.20" cy="121.50" r="2.20" fill="#c9656f" stroke="none" stroke-width="1"/>
<line x1="624.80" y1="129.10" x2="624.80" y2="131.10" stroke="#111" stroke-width="0.9"/>
<text x="624.80" y="139.50" font-size="8.9" text-anchor="middle" fill="#111">0</text>
<line x1="643.60" y1="129.10" x2="643.60" y2="131.10" stroke="#111" stroke-width="0.9"/>
<text x="643.60" y="139.50" font-size="8.9" text-anchor="middle" fill="#111">2</text>
<line x1="662.40" y1="129.10" x2="662.40" y2="131.10" stroke="#111" stroke-width="0.9"/>
<text x="662.40" y="139.50" font-size="8.9" text-anchor="middle" fill="#111">4</text>
<line x1="681.40" y1="129.10" x2="681.40" y2="131.10" stroke="#111" stroke-width="0.9"/>
<text x="681.40" y="139.50" font-size="8.9" text-anchor="middle" fill="#111">6</text>
<text x="652.70" y="153.60" font-size="10.3" text-anchor="middle" fill="#111">-log<tspan font-size="6.4" dy="1.2">10</tspan><tspan dy="-1.2">(FDR)</tspan></text>
<text x="521.70" y="144.20" font-size="10.3" text-anchor="start" fill="#111">FC</text>
<circle cx="547.50" cy="141.40" r="3.50" fill="#c9656f" stroke="none" stroke-width="1"/>
<circle cx="563.00" cy="141.40" r="4.60" fill="#c9656f" stroke="none" stroke-width="1"/>
<circle cx="578.30" cy="141.40" r="5.50" fill="#c9656f" stroke="none" stroke-width="1"/>
<circle cx="594.00" cy="141.40" r="6.20" fill="#c9656f" stroke="none" stroke-width="1"/>
<text x="547.50" y="157.20" font-size="8.9" text-anchor="middle" fill="#111">4</text>
<text x="594.00" y="157.20" font-size="8.9" text-anchor="middle" fill="#111">12</text>
<line x1="553.00" y1="153.70" x2="583.00" y2="153.70" stroke="#111" stroke-width="0.9"/>
<path d="M582,151.5 L587,153.7 L582,155.9 Z" fill="#111"/>
<text transform="translate(184.6,200.7) rotate(-90)" font-size="10.3" text-anchor="middle" fill="#111">ChIP-Seq</text>
<text transform="translate(184.6,264.0) rotate(-90)" font-size="10.3" text-anchor="middle" fill="#111">RNA-Seq</text>
<text x="241.60" y="200.00" font-size="10.3" text-anchor="end" fill="#111" font-style="italic">LEC1-GFP</text>
<text x="240.70" y="223.60" font-size="10.3" text-anchor="end" fill="#111" font-style="italic">Input</text>
<text x="240.70" y="250.40" font-size="10.3" text-anchor="end" fill="#111" font-style="italic">lec1</text>
<text x="240.70" y="277.30" font-size="10.3" text-anchor="end" fill="#111">WT</text>
<line x1="245.60" y1="180.50" x2="245.60" y2="231.20" stroke="#111" stroke-width="1"/>
<line x1="245.60" y1="204.30" x2="276.00" y2="204.30" stroke="#eaa0b4" stroke-width="0.8"/>
<line x1="245.60" y1="231.00" x2="276.00" y2="231.00" stroke="#6a6a6a" stroke-width="0.9"/>
<text x="246.40" y="182.40" font-size="8.9" text-anchor="start" fill="#111">0-200</text>
<path d="M246.00,204.30 L246.00,199.50 L248.10,198.00 L251.10,196.00 L253.20,195.00 L254.70,191.90 L255.70,190.80 L257.30,192.40 L258.80,190.30 L260.30,188.80 L261.30,189.80 L262.40,192.90 L263.40,195.40 L264.40,197.50 L266.50,198.00 L267.00,200.00 L268.50,202.60 L269.00,203.80 L269.00,204.30 Z" fill="#c4002f"/>
<path d="M271.50,204.30 L271.50,203.00 L273.50,202.90 L275.50,203.40 L275.50,204.30 Z" fill="#c4002f"/>
<path d="M0,-2.5 L2.8,1.9 L-2.8,1.9 Z" transform="translate(267.30,189.60) rotate(6)" fill="#3a70d2"/>
<line x1="245.60" y1="235.40" x2="245.60" y2="286.60" stroke="#111" stroke-width="1"/>
<line x1="245.60" y1="259.00" x2="276.00" y2="259.00" stroke="#f8c9a4" stroke-width="0.8"/>
<line x1="245.60" y1="286.20" x2="276.00" y2="286.20" stroke="#9fd0aa" stroke-width="0.8"/>
<text x="246.40" y="241.90" font-size="8.9" text-anchor="start" fill="#111">0-1500</text>
<path d="M265.20,259.00 L265.20,257.00 L267.00,254.50 L269.00,254.00 L270.50,252.50 L272.00,251.50 L273.00,250.30 L274.20,250.50 L275.00,251.00 L275.00,259.00 Z" fill="#f07b12"/>
<path d="M265.20,286.20 L265.20,276.00 L266.50,274.50 L268.00,275.00 L269.50,272.50 L270.50,267.00 L271.50,265.00 L272.30,264.30 L273.30,265.50 L274.30,268.00 L275.00,271.00 L275.00,286.20 Z" fill="#127a33"/>
<rect x="265.80" y="295.10" width="8.90" height="3.80" fill="#000" stroke="none" stroke-width="1" rx="1.2"/>
<text x="261.30" y="311.60" font-size="8.9" text-anchor="middle" fill="#111" font-style="italic">AGL36</text>
<line x1="282.60" y1="180.50" x2="282.60" y2="231.20" stroke="#111" stroke-width="1"/>
<line x1="282.60" y1="204.30" x2="313.90" y2="204.30" stroke="#eaa0b4" stroke-width="0.8"/>
<line x1="282.60" y1="231.00" x2="313.90" y2="231.00" stroke="#6a6a6a" stroke-width="0.9"/>
<text x="283.40" y="182.40" font-size="8.9" text-anchor="start" fill="#111">0-150</text>
<path d="M283.30,204.30 L283.30,202.10 L284.30,201.40 L286.40,201.80 L287.90,197.00 L289.50,192.40 L290.50,192.90 L291.50,197.50 L292.50,202.60 L293.50,204.10 L293.50,204.30 Z" fill="#c4002f"/>
<path d="M300.00,204.30 L300.00,203.80 L300.70,201.60 L301.40,203.80 L301.40,204.30 Z" fill="#c4002f"/>
<path d="M309.50,204.30 L309.50,203.60 L311.50,202.30 L313.50,202.80 L313.50,204.30 Z" fill="#c4002f"/>
<path d="M0,-2.5 L2.8,1.9 L-2.8,1.9 Z" transform="translate(294.80,189.60) rotate(6)" fill="#3a70d2"/>
<line x1="282.60" y1="235.40" x2="282.60" y2="286.60" stroke="#111" stroke-width="1"/>
<line x1="282.60" y1="259.00" x2="313.90" y2="259.00" stroke="#f8c9a4" stroke-width="0.8"/>
<line x1="282.60" y1="286.20" x2="313.90" y2="286.20" stroke="#9fd0aa" stroke-width="0.8"/>
<text x="285.60" y="241.90" font-size="8.9" text-anchor="start" fill="#111">0-500</text>
<path d="M296.90,259.00 L296.90,258.00 L298.00,256.80 L299.50,257.20 L301.00,256.30 L302.50,257.00 L303.90,257.50 L303.90,259.00 Z" fill="#f07b12"/>
<path d="M296.90,286.20 L296.90,284.00 L298.20,282.30 L299.50,282.80 L300.80,282.00 L302.00,283.00 L303.00,282.50 L304.00,284.50 L304.00,286.20 Z" fill="#127a33"/>
<rect x="297.40" y="295.10" width="3.60" height="3.80" fill="#000" stroke="none" stroke-width="1" rx="1.2"/>
<rect x="301.00" y="295.90" width="1.40" height="2.20" fill="#000" stroke="none" stroke-width="1" rx="1.1"/>
<rect x="302.40" y="295.10" width="2.00" height="3.80" fill="#000" stroke="none" stroke-width="1" rx="1.2"/>
<text x="298.80" y="311.60" font-size="8.9" text-anchor="middle" fill="#111" font-style="italic">AGL46</text>
<line x1="320.00" y1="180.50" x2="320.00" y2="231.20" stroke="#111" stroke-width="1"/>
<line x1="320.00" y1="204.30" x2="351.00" y2="204.30" stroke="#eaa0b4" stroke-width="0.8"/>
<line x1="320.00" y1="231.00" x2="351.00" y2="231.00" stroke="#6a6a6a" stroke-width="0.9"/>
<text x="320.80" y="182.40" font-size="8.9" text-anchor="start" fill="#111">0-100</text>
<path d="M320.50,204.30 L320.50,200.50 L322.00,199.50 L323.50,200.00 L325.00,199.00 L327.00,198.50 L328.50,196.00 L330.00,194.00 L331.00,193.00 L332.50,194.50 L334.00,198.00 L335.00,201.50 L336.00,203.50 L336.00,204.30 Z" fill="#c4002f"/>
<path d="M336.50,204.30 L336.50,203.00 L338.00,200.00 L340.00,199.20 L341.50,200.50 L343.00,203.50 L343.00,204.30 Z" fill="#c4002f"/>
<path d="M349.50,204.30 L349.50,203.50 L350.50,202.50 L351.00,203.50 L351.00,204.30 Z" fill="#c4002f"/>
<path d="M0,-2.5 L2.8,1.9 L-2.8,1.9 Z" transform="translate(337.20,190.40) rotate(8)" fill="#3a70d2"/>
<line x1="320.00" y1="235.40" x2="320.00" y2="286.60" stroke="#111" stroke-width="1"/>
<line x1="320.00" y1="259.00" x2="351.00" y2="259.00" stroke="#f8c9a4" stroke-width="0.8"/>
<line x1="320.00" y1="286.20" x2="351.00" y2="286.20" stroke="#9fd0aa" stroke-width="0.8"/>
<text x="320.80" y="241.90" font-size="8.9" text-anchor="start" fill="#111">0-1500</text>
<path d="M336.70,259.00 L336.70,256.50 L338.00,254.50 L339.50,253.00 L340.50,251.00 L342.00,249.50 L343.00,248.60 L344.00,249.50 L344.60,251.00 L344.60,259.00 Z" fill="#f07b12"/>
<path d="M336.70,286.20 L336.70,282.00 L338.00,278.50 L339.00,280.00 L340.20,276.50 L341.50,275.00 L343.00,272.70 L344.00,274.00 L344.60,278.00 L344.60,286.20 Z" fill="#127a33"/>
<rect x="337.10" y="295.20" width="2.70" height="3.60" fill="#000" stroke="none" stroke-width="1" rx="1.2"/>
<rect x="339.80" y="296.00" width="1.40" height="2.00" fill="#000" stroke="none" stroke-width="1" rx="1.0"/>
<rect x="341.20" y="295.20" width="2.80" height="3.60" fill="#000" stroke="none" stroke-width="1" rx="1.2"/>
<text x="336.30" y="311.60" font-size="8.9" text-anchor="middle" fill="#111" font-style="italic">AGL62</text>
<line x1="356.80" y1="180.50" x2="356.80" y2="231.20" stroke="#111" stroke-width="1"/>
<line x1="356.80" y1="204.30" x2="388.00" y2="204.30" stroke="#eaa0b4" stroke-width="0.8"/>
<line x1="356.80" y1="231.00" x2="388.00" y2="231.00" stroke="#6a6a6a" stroke-width="0.9"/>
<text x="357.60" y="182.40" font-size="8.9" text-anchor="start" fill="#111">0-200</text>
<path d="M359.20,204.30 L359.20,203.50 L360.50,196.00 L362.00,193.00 L363.50,191.00 L364.80,188.00 L365.50,186.50 L366.20,184.10 L367.20,190.00 L368.50,196.00 L370.40,203.80 L370.40,204.30 Z" fill="#c4002f"/>
<path d="M374.40,204.30 L374.40,203.50 L375.50,196.00 L377.00,195.30 L378.30,197.00 L379.50,195.50 L380.80,194.40 L382.10,203.50 L382.10,204.30 Z" fill="#c4002f"/>
<path d="M0,-2.5 L2.8,1.9 L-2.8,1.9 Z" transform="translate(371.40,186.60) rotate(8)" fill="#3a70d2"/>
<line x1="356.80" y1="235.40" x2="356.80" y2="286.60" stroke="#111" stroke-width="1"/>
<line x1="356.80" y1="259.00" x2="388.00" y2="259.00" stroke="#f8c9a4" stroke-width="0.8"/>
<line x1="356.80" y1="286.20" x2="388.00" y2="286.20" stroke="#9fd0aa" stroke-width="0.8"/>
<text x="357.60" y="241.90" font-size="8.9" text-anchor="start" fill="#111">0-500</text>
<path d="M370.90,259.00 L370.90,256.00 L371.50,254.00 L372.80,253.60 L373.50,256.50 L375.50,256.50 L376.00,253.50 L377.00,254.00 L377.00,259.00 Z" fill="#f07b12"/>
<path d="M370.90,286.20 L370.90,283.50 L372.00,281.00 L373.50,281.50 L374.50,279.00 L375.50,272.70 L376.20,275.00 L376.80,282.00 L376.80,286.20 Z" fill="#127a33"/>
<rect x="371.80" y="295.10" width="4.10" height="3.80" fill="#000" stroke="none" stroke-width="1" rx="1.2"/>
<text x="374.90" y="311.60" font-size="8.9" text-anchor="middle" fill="#111" font-style="italic">AGL90</text>
<line x1="393.90" y1="180.50" x2="393.90" y2="231.20" stroke="#111" stroke-width="1"/>
<line x1="393.90" y1="204.30" x2="425.00" y2="204.30" stroke="#eaa0b4" stroke-width="0.8"/>
<line x1="393.90" y1="231.00" x2="425.00" y2="231.00" stroke="#6a6a6a" stroke-width="0.9"/>
<text x="396.30" y="182.40" font-size="8.9" text-anchor="start" fill="#111">0-100</text>
<path d="M395.30,204.30 L395.30,203.80 L396.50,199.00 L397.80,196.00 L399.00,195.00 L400.50,196.50 L401.50,199.00 L403.00,203.80 L403.00,204.30 Z" fill="#c4002f"/>
<path d="M414.90,204.30 L414.90,203.80 L416.00,200.00 L417.50,197.00 L418.60,195.70 L419.80,196.50 L421.00,199.50 L422.30,203.80 L422.30,204.30 Z" fill="#c4002f"/>
<path d="M0,-2.5 L2.8,1.9 L-2.8,1.9 Z" transform="translate(403.50,191.30) rotate(8)" fill="#3a70d2"/>
<line x1="393.90" y1="235.40" x2="393.90" y2="286.60" stroke="#111" stroke-width="1"/>
<line x1="393.90" y1="259.00" x2="425.00" y2="259.00" stroke="#f8c9a4" stroke-width="0.8"/>
<line x1="393.90" y1="286.20" x2="425.00" y2="286.20" stroke="#9fd0aa" stroke-width="0.8"/>
<text x="398.90" y="241.90" font-size="8.9" text-anchor="start" fill="#111">0-2000</text>
<path d="M404.60,259.00 L404.60,256.00 L405.50,251.00 L406.80,249.00 L408.50,248.50 L409.50,249.20 L410.00,258.00 L410.60,249.00 L412.50,248.00 L414.00,248.60 L415.10,252.00 L415.10,259.00 Z" fill="#f07b12"/>
<path d="M420.00,259.00 L420.00,258.50 L421.70,257.60 L423.50,258.00 L423.50,259.00 Z" fill="#f07b12"/>
<path d="M404.60,286.20 L404.60,284.00 L405.50,270.00 L406.80,266.50 L407.80,268.00 L408.80,264.50 L409.80,266.00 L410.80,264.00 L411.80,268.00 L413.00,273.00 L414.20,278.00 L416.20,284.50 L416.20,286.20 Z" fill="#127a33"/>
<path d="M419.50,286.20 L419.50,285.00 L421.00,283.50 L423.00,284.00 L423.00,286.20 Z" fill="#127a33"/>
<rect x="405.60" y="295.10" width="3.40" height="3.80" fill="#000" stroke="none" stroke-width="1" rx="1.2"/>
<rect x="409.00" y="296.00" width="1.80" height="2.00" fill="#000" stroke="none" stroke-width="1" rx="1.0"/>
<rect x="410.80" y="295.10" width="3.40" height="3.80" fill="#000" stroke="none" stroke-width="1" rx="1.2"/>
<text x="412.60" y="311.60" font-size="8.9" text-anchor="middle" fill="#111" font-style="italic">AGL102</text>
<line x1="395.00" y1="293.00" x2="424.50" y2="293.00" stroke="#dcdcdc" stroke-width="0.8"/>
<line x1="268.20" y1="262.00" x2="268.20" y2="286.00" stroke="#ffffff" stroke-width="0.45" stroke-opacity="0.75"/>
<line x1="270.60" y1="262.00" x2="270.60" y2="286.00" stroke="#ffffff" stroke-width="0.45" stroke-opacity="0.75"/>
<line x1="339.60" y1="248.00" x2="339.60" y2="258.70" stroke="#ffffff" stroke-width="0.45" stroke-opacity="0.75"/>
<line x1="341.60" y1="248.00" x2="341.60" y2="258.70" stroke="#ffffff" stroke-width="0.45" stroke-opacity="0.75"/>
<line x1="339.00" y1="272.00" x2="339.00" y2="286.00" stroke="#ffffff" stroke-width="0.45" stroke-opacity="0.75"/>
<line x1="341.40" y1="272.00" x2="341.40" y2="286.00" stroke="#ffffff" stroke-width="0.45" stroke-opacity="0.75"/>
<line x1="373.60" y1="253.00" x2="373.60" y2="258.70" stroke="#ffffff" stroke-width="0.45" stroke-opacity="0.75"/>
<line x1="410.00" y1="247.00" x2="410.00" y2="258.70" stroke="#ffffff" stroke-width="0.45" stroke-opacity="0.75"/>
<line x1="408.30" y1="263.00" x2="408.30" y2="286.00" stroke="#ffffff" stroke-width="0.45" stroke-opacity="0.75"/>
<line x1="410.30" y1="263.00" x2="410.30" y2="286.00" stroke="#ffffff" stroke-width="0.45" stroke-opacity="0.75"/>
<text x="491.70" y="198.90" font-size="10.3" text-anchor="end" fill="#111" font-style="italic">LEC1-GFP</text>
<text x="491.10" y="224.60" font-size="10.3" text-anchor="end" fill="#111" font-style="italic">Input</text>
<text x="491.10" y="251.60" font-size="10.3" text-anchor="end" fill="#111" font-style="italic">lec1</text>
<text x="491.10" y="279.90" font-size="10.3" text-anchor="end" fill="#111">WT</text>
<line x1="495.90" y1="180.50" x2="495.90" y2="231.20" stroke="#111" stroke-width="1"/>
<line x1="495.90" y1="204.30" x2="527.70" y2="204.30" stroke="#eaa0b4" stroke-width="0.8"/>
<line x1="495.90" y1="231.00" x2="527.70" y2="231.00" stroke="#6a6a6a" stroke-width="0.9"/>
<text x="496.70" y="182.40" font-size="8.9" text-anchor="start" fill="#111">0-100</text>
<path d="M496.00,204.30 L496.00,199.90 L497.00,200.50 L498.50,204.00 L498.50,204.30 Z" fill="#c4002f"/>
<path d="M512.30,204.30 L512.30,204.00 L513.50,202.50 L514.70,204.00 L514.70,204.30 Z" fill="#c4002f"/>
<path d="M516.80,204.30 L516.80,204.00 L517.50,199.50 L518.50,196.80 L519.50,196.00 L520.50,199.00 L521.50,198.00 L522.50,200.00 L523.50,199.50 L524.50,197.80 L525.50,198.50 L527.00,200.50 L527.70,204.00 L527.70,204.30 Z" fill="#c4002f"/>
<path d="M0,-2.5 L2.8,1.9 L-2.8,1.9 Z" transform="translate(522.40,191.10) rotate(80)" fill="#3a70d2"/>
<line x1="495.90" y1="235.40" x2="495.90" y2="286.60" stroke="#111" stroke-width="1"/>
<line x1="495.90" y1="259.00" x2="527.70" y2="259.00" stroke="#f8c9a4" stroke-width="0.8"/>
<line x1="495.90" y1="286.20" x2="527.70" y2="286.20" stroke="#9fd0aa" stroke-width="0.8"/>
<text x="497.50" y="241.90" font-size="8.9" text-anchor="start" fill="#111">0-100</text>
<path d="M499.00,259.00 L499.00,253.80 L499.60,249.00 L500.30,244.20 L501.50,244.40 L502.50,246.00 L503.50,246.50 L504.50,248.50 L505.50,251.00 L506.50,253.50 L507.00,256.00 L507.00,259.00 Z" fill="#f07b12"/>
<path d="M507.60,259.00 L507.60,257.00 L508.50,255.50 L509.50,256.00 L510.50,254.30 L511.20,255.50 L512.00,258.50 L512.00,259.00 Z" fill="#f07b12"/>
<path d="M524.50,259.00 L524.50,258.40 L525.50,258.40 L525.50,259.00 Z" fill="#f07b12"/>
<path d="M500.70,286.20 L500.70,285.50 L502.00,284.30 L503.50,283.10 L504.50,283.60 L505.50,284.80 L506.70,285.80 L506.70,286.20 Z" fill="#127a33"/>
<path d="M522.70,286.20 L522.70,285.80 L523.60,285.00 L524.50,285.80 L524.50,286.20 Z" fill="#127a33"/>
<rect x="498.50" y="296.30" width="14.30" height="1.40" fill="#000" stroke="none" stroke-width="1" rx="0.7"/>
<rect x="501.00" y="295.40" width="3.50" height="3.20" fill="#000" stroke="none" stroke-width="1" rx="1.2"/>
<rect x="505.20" y="295.40" width="2.80" height="3.20" fill="#000" stroke="none" stroke-width="1" rx="1.2"/>
<rect x="508.60" y="295.40" width="3.20" height="3.20" fill="#000" stroke="none" stroke-width="1" rx="1.2"/>
<text x="509.30" y="311.60" font-size="9.4" text-anchor="middle" fill="#111" font-style="italic">WAT1</text>
<line x1="501.10" y1="243.00" x2="501.10" y2="258.50" stroke="#ffffff" stroke-width="0.45" stroke-opacity="0.75"/>
<line x1="503.00" y1="243.00" x2="503.00" y2="258.50" stroke="#ffffff" stroke-width="0.45" stroke-opacity="0.75"/>
<line x1="505.00" y1="243.00" x2="505.00" y2="258.50" stroke="#ffffff" stroke-width="0.45" stroke-opacity="0.75"/>
<line x1="509.00" y1="243.00" x2="509.00" y2="258.50" stroke="#ffffff" stroke-width="0.45" stroke-opacity="0.75"/>
<line x1="529.40" y1="180.50" x2="529.40" y2="231.20" stroke="#111" stroke-width="1"/>
<line x1="529.40" y1="204.30" x2="556.80" y2="204.30" stroke="#eaa0b4" stroke-width="0.8"/>
<line x1="529.40" y1="231.00" x2="556.80" y2="231.00" stroke="#6a6a6a" stroke-width="0.9"/>
<text x="530.20" y="182.40" font-size="8.9" text-anchor="start" fill="#111">0-100</text>
<path d="M532.10,204.30 L532.10,204.00 L533.50,200.00 L535.00,198.00 L536.20,197.40 L537.50,198.50 L539.00,201.50 L540.50,204.00 L540.50,204.30 Z" fill="#c4002f"/>
<path d="M0,-2.5 L2.8,1.9 L-2.8,1.9 Z" transform="translate(538.40,192.60) rotate(80)" fill="#3a70d2"/>
<line x1="529.40" y1="235.40" x2="529.40" y2="286.60" stroke="#111" stroke-width="1"/>
<line x1="529.40" y1="259.00" x2="556.80" y2="259.00" stroke="#f8c9a4" stroke-width="0.8"/>
<line x1="529.40" y1="286.20" x2="556.80" y2="286.20" stroke="#9fd0aa" stroke-width="0.8"/>
<text x="531.20" y="241.90" font-size="8.9" text-anchor="start" fill="#111">0-100</text>
<path d="M537.00,259.00 L537.00,258.60 L537.60,257.30 L538.20,258.60 L538.20,259.00 Z" fill="#f07b12"/>
<path d="M543.90,259.00 L543.90,251.50 L544.90,251.50 L544.90,259.00 Z" fill="#f07b12"/>
<path d="M545.10,259.00 L545.10,250.20 L546.10,250.20 L546.10,259.00 Z" fill="#f07b12"/>
<path d="M546.30,259.00 L546.30,251.00 L547.30,251.00 L547.30,259.00 Z" fill="#f07b12"/>
<path d="M549.10,259.00 L549.10,254.00 L549.80,250.00 L550.50,249.00 L551.30,248.00 L552.00,246.50 L552.30,241.80 L552.80,241.80 L553.10,247.00 L553.70,252.00 L553.90,258.00 L553.90,259.00 Z" fill="#f07b12"/>
<path d="M545.50,286.20 L545.50,285.90 L546.30,284.80 L547.20,285.90 L547.20,286.20 Z" fill="#127a33"/>
<path d="M550.50,286.20 L550.50,285.90 L551.20,284.50 L552.00,285.90 L552.00,286.20 Z" fill="#127a33"/>
<rect x="542.70" y="295.00" width="4.80" height="4.00" fill="#000" stroke="none" stroke-width="1" rx="1.2"/>
<rect x="547.50" y="295.80" width="1.00" height="2.40" fill="#000" stroke="none" stroke-width="1" rx="1.2"/>
<rect x="548.50" y="295.00" width="4.70" height="4.00" fill="#000" stroke="none" stroke-width="1" rx="1.2"/>
<text x="544.60" y="311.60" font-size="9.4" text-anchor="middle" fill="#111" font-style="italic">IDD14</text>
<line x1="550.60" y1="245.00" x2="550.60" y2="258.50" stroke="#ffffff" stroke-width="0.45" stroke-opacity="0.75"/>
<line x1="551.80" y1="245.00" x2="551.80" y2="258.50" stroke="#ffffff" stroke-width="0.45" stroke-opacity="0.75"/>
<line x1="559.90" y1="180.50" x2="559.90" y2="231.20" stroke="#111" stroke-width="1"/>
<line x1="559.90" y1="204.30" x2="588.40" y2="204.30" stroke="#eaa0b4" stroke-width="0.8"/>
<line x1="559.90" y1="231.00" x2="588.40" y2="231.00" stroke="#6a6a6a" stroke-width="0.9"/>
<text x="560.70" y="182.40" font-size="8.9" text-anchor="start" fill="#111">0-100</text>
<path d="M562.20,204.30 L562.20,204.00 L563.20,195.00 L564.20,187.60 L565.00,192.00 L565.80,204.00 L565.80,204.30 Z" fill="#c4002f"/>
<path d="M575.60,204.30 L575.60,204.00 L577.00,203.00 L578.60,204.00 L578.60,204.30 Z" fill="#c4002f"/>
<path d="M0,-2.5 L2.8,1.9 L-2.8,1.9 Z" transform="translate(569.10,190.50) rotate(80)" fill="#3a70d2"/>
<line x1="559.90" y1="235.40" x2="559.90" y2="286.60" stroke="#111" stroke-width="1"/>
<line x1="559.90" y1="259.00" x2="588.40" y2="259.00" stroke="#f8c9a4" stroke-width="0.8"/>
<line x1="559.90" y1="286.20" x2="588.40" y2="286.20" stroke="#9fd0aa" stroke-width="0.8"/>
<text x="561.10" y="241.90" font-size="8.9" text-anchor="start" fill="#111">0-100</text>
<path d="M566.40,259.00 L566.40,251.70 L568.40,251.70 L568.40,259.00 Z" fill="#f07b12"/>
<path d="M568.60,259.00 L568.60,248.60 L570.90,248.60 L570.90,259.00 Z" fill="#f07b12"/>
<path d="M571.10,259.00 L571.10,247.50 L572.60,247.50 L572.60,259.00 Z" fill="#f07b12"/>
<path d="M573.20,259.00 L573.20,250.70 L573.90,250.70 L573.90,259.00 Z" fill="#f07b12"/>
<path d="M575.60,259.00 L575.60,244.40 L577.90,244.40 L577.90,259.00 Z" fill="#f07b12"/>
<path d="M580.00,259.00 L580.00,238.10 L582.90,238.10 L582.90,259.00 Z" fill="#f07b12"/>
<path d="M566.40,286.20 L566.40,284.00 L567.20,281.00 L568.40,283.00 L568.40,286.20 Z" fill="#127a33"/>
<path d="M569.00,286.20 L569.00,283.00 L570.00,278.40 L571.00,282.00 L571.00,286.20 Z" fill="#127a33"/>
<path d="M572.50,286.20 L572.50,283.00 L573.20,278.00 L574.00,283.50 L574.00,286.20 Z" fill="#127a33"/>
<path d="M575.60,286.20 L575.60,282.00 L576.50,278.40 L577.30,279.00 L578.00,283.00 L578.00,286.20 Z" fill="#127a33"/>
<path d="M580.00,286.20 L580.00,282.00 L581.00,276.00 L581.50,272.10 L582.00,277.00 L582.50,284.00 L582.50,286.20 Z" fill="#127a33"/>
<rect x="566.90" y="296.20" width="15.60" height="1.60" fill="#000" stroke="none" stroke-width="1" rx="0.8"/>
<rect x="567.50" y="295.50" width="4.00" height="3.00" fill="#000" stroke="none" stroke-width="1" rx="1.2"/>
<rect x="572.50" y="295.50" width="4.50" height="3.00" fill="#000" stroke="none" stroke-width="1" rx="1.2"/>
<rect x="578.00" y="295.50" width="4.00" height="3.00" fill="#000" stroke="none" stroke-width="1" rx="1.2"/>
<text x="576.60" y="311.60" font-size="9.4" text-anchor="middle" fill="#111" font-style="italic">AUX1</text>
<line x1="567.40" y1="238.00" x2="567.40" y2="258.00" stroke="#ffffff" stroke-width="0.45" stroke-opacity="0.75"/>
<line x1="569.70" y1="238.00" x2="569.70" y2="258.00" stroke="#ffffff" stroke-width="0.45" stroke-opacity="0.75"/>
<line x1="576.70" y1="238.00" x2="576.70" y2="258.00" stroke="#ffffff" stroke-width="0.45" stroke-opacity="0.75"/>
<line x1="581.40" y1="238.00" x2="581.40" y2="258.00" stroke="#ffffff" stroke-width="0.45" stroke-opacity="0.75"/>
<line x1="590.40" y1="180.50" x2="590.40" y2="231.20" stroke="#111" stroke-width="1"/>
<line x1="590.40" y1="204.30" x2="618.60" y2="204.30" stroke="#eaa0b4" stroke-width="0.8"/>
<line x1="590.40" y1="231.00" x2="618.60" y2="231.00" stroke="#6a6a6a" stroke-width="0.9"/>
<text x="591.20" y="182.40" font-size="8.9" text-anchor="start" fill="#111">0-100</text>
<path d="M591.40,204.30 L591.40,204.00 L592.50,198.00 L593.50,195.00 L594.80,194.50 L595.50,197.00 L596.30,204.00 L596.30,204.30 Z" fill="#c4002f"/>
<path d="M609.10,204.30 L609.10,204.00 L610.10,201.00 L611.10,204.00 L611.10,204.30 Z" fill="#c4002f"/>
<path d="M617.30,204.30 L617.30,204.00 L618.00,202.50 L618.60,204.00 L618.60,204.30 Z" fill="#c4002f"/>
<path d="M0,-2.5 L2.8,1.9 L-2.8,1.9 Z" transform="translate(597.80,190.30) rotate(80)" fill="#3a70d2"/>
<line x1="590.40" y1="235.40" x2="590.40" y2="286.60" stroke="#111" stroke-width="1"/>
<line x1="590.40" y1="259.00" x2="618.60" y2="259.00" stroke="#f8c9a4" stroke-width="0.8"/>
<line x1="590.40" y1="286.20" x2="618.60" y2="286.20" stroke="#9fd0aa" stroke-width="0.8"/>
<text x="591.60" y="241.90" font-size="8.9" text-anchor="start" fill="#111">0-100</text>
<path d="M594.80,259.00 L594.80,254.30 L595.80,254.30 L595.80,259.00 Z" fill="#f07b12"/>
<path d="M596.10,259.00 L596.10,252.50 L599.80,252.50 L599.80,259.00 Z" fill="#f07b12"/>
<path d="M599.80,259.00 L599.80,251.20 L603.00,251.20 L603.00,259.00 Z" fill="#f07b12"/>
<path d="M604.00,259.00 L604.00,247.30 L604.80,247.30 L604.80,259.00 Z" fill="#f07b12"/>
<path d="M606.10,259.00 L606.10,253.30 L606.90,253.30 L606.90,259.00 Z" fill="#f07b12"/>
<path d="M608.20,259.00 L608.20,255.90 L609.00,255.90 L609.00,259.00 Z" fill="#f07b12"/>
<path d="M610.30,259.00 L610.30,244.50 L612.00,244.50 L612.00,259.00 Z" fill="#f07b12"/>
<path d="M612.00,259.00 L612.00,242.80 L613.50,242.80 L613.50,259.00 Z" fill="#f07b12"/>
<path d="M613.50,259.00 L613.50,246.00 L615.30,246.00 L615.30,259.00 Z" fill="#f07b12"/>
<path d="M596.00,286.20 L596.00,285.80 L597.00,284.60 L598.00,285.80 L598.00,286.20 Z" fill="#127a33"/>
<path d="M600.00,286.20 L600.00,285.80 L601.00,284.80 L602.00,285.80 L602.00,286.20 Z" fill="#127a33"/>
<path d="M604.00,286.20 L604.00,285.80 L605.00,285.00 L606.00,285.80 L606.00,286.20 Z" fill="#127a33"/>
<path d="M610.00,286.20 L610.00,285.80 L611.50,283.50 L613.00,284.20 L614.50,285.80 L614.50,286.20 Z" fill="#127a33"/>
<rect x="593.90" y="294.80" width="7.60" height="4.40" fill="#000" stroke="none" stroke-width="1" rx="1.2"/>
<rect x="601.50" y="295.70" width="11.50" height="2.60" fill="#000" stroke="none" stroke-width="1" rx="1.2"/>
<rect x="604.00" y="295.20" width="3.00" height="3.60" fill="#000" stroke="none" stroke-width="1" rx="1.2"/>
<rect x="609.00" y="295.20" width="3.50" height="3.60" fill="#000" stroke="none" stroke-width="1" rx="1.2"/>
<text x="604.50" y="311.60" font-size="9.4" text-anchor="middle" fill="#111" font-style="italic">PIN1</text>
<line x1="597.60" y1="242.00" x2="597.60" y2="258.00" stroke="#ffffff" stroke-width="0.45" stroke-opacity="0.75"/>
<line x1="601.20" y1="242.00" x2="601.20" y2="258.00" stroke="#ffffff" stroke-width="0.45" stroke-opacity="0.75"/>
<line x1="611.10" y1="242.00" x2="611.10" y2="258.00" stroke="#ffffff" stroke-width="0.45" stroke-opacity="0.75"/>
<line x1="613.00" y1="242.00" x2="613.00" y2="258.00" stroke="#ffffff" stroke-width="0.45" stroke-opacity="0.75"/>
<line x1="621.90" y1="180.50" x2="621.90" y2="231.20" stroke="#111" stroke-width="1"/>
<line x1="621.90" y1="204.30" x2="649.50" y2="204.30" stroke="#eaa0b4" stroke-width="0.8"/>
<line x1="621.90" y1="231.00" x2="649.50" y2="231.00" stroke="#6a6a6a" stroke-width="0.9"/>
<text x="622.70" y="182.40" font-size="8.9" text-anchor="start" fill="#111">0-100</text>
<path d="M638.70,204.30 L638.70,204.00 L640.00,200.00 L641.50,197.00 L643.20,194.50 L644.50,196.50 L645.50,199.00 L646.50,197.50 L647.50,200.50 L648.50,204.00 L648.50,204.30 Z" fill="#c4002f"/>
<path d="M0,-2.5 L2.8,1.9 L-2.8,1.9 Z" transform="translate(646.30,192.60) rotate(80)" fill="#3a70d2"/>
<line x1="621.90" y1="235.40" x2="621.90" y2="286.60" stroke="#111" stroke-width="1"/>
<line x1="621.90" y1="259.00" x2="649.50" y2="259.00" stroke="#f8c9a4" stroke-width="0.8"/>
<line x1="621.90" y1="286.20" x2="649.50" y2="286.20" stroke="#9fd0aa" stroke-width="0.8"/>
<text x="622.90" y="241.90" font-size="8.9" text-anchor="start" fill="#111">0-1000</text>
<path d="M629.40,259.00 L629.40,257.00 L630.50,245.00 L631.20,237.60 L632.20,237.30 L633.00,242.00 L633.60,245.50 L635.20,249.60 L636.70,250.50 L638.00,250.20 L639.00,251.70 L639.20,258.00 L639.20,259.00 Z" fill="#f07b12"/>
<rect x="628.90" y="296.20" width="9.10" height="1.60" fill="#000" stroke="none" stroke-width="1" rx="0.8"/>
<rect x="630.00" y="295.20" width="7.00" height="3.60" fill="#000" stroke="none" stroke-width="1" rx="1.2"/>
<text x="634.30" y="311.60" font-size="9.4" text-anchor="middle" fill="#111" font-style="italic">IAA2</text>
<line x1="633.10" y1="245.00" x2="633.10" y2="258.00" stroke="#ffffff" stroke-width="0.45" stroke-opacity="0.75"/>
<line x1="635.80" y1="245.00" x2="635.80" y2="258.00" stroke="#ffffff" stroke-width="0.45" stroke-opacity="0.75"/>
<line x1="637.30" y1="245.00" x2="637.30" y2="258.00" stroke="#ffffff" stroke-width="0.45" stroke-opacity="0.75"/>
<line x1="652.50" y1="180.50" x2="652.50" y2="231.20" stroke="#111" stroke-width="1"/>
<line x1="652.50" y1="204.30" x2="681.00" y2="204.30" stroke="#eaa0b4" stroke-width="0.8"/>
<line x1="652.50" y1="231.00" x2="681.00" y2="231.00" stroke="#6a6a6a" stroke-width="0.9"/>
<text x="653.30" y="182.40" font-size="8.9" text-anchor="start" fill="#111">0-100</text>
<path d="M653.50,204.30 L653.50,204.00 L654.80,200.00 L656.20,197.40 L657.50,198.50 L659.40,204.00 L659.40,204.30 Z" fill="#c4002f"/>
<path d="M674.80,204.30 L674.80,204.00 L676.00,201.50 L677.50,200.00 L679.00,201.50 L680.50,204.00 L680.50,204.30 Z" fill="#c4002f"/>
<path d="M0,-2.9 L1.9,1.9 L-1.9,1.9 Z" transform="translate(670.70,197.30) rotate(135)" fill="#3a70d2"/>
<line x1="652.50" y1="235.40" x2="652.50" y2="286.60" stroke="#111" stroke-width="1"/>
<line x1="652.50" y1="259.00" x2="681.00" y2="259.00" stroke="#f8c9a4" stroke-width="0.8"/>
<line x1="652.50" y1="286.20" x2="681.00" y2="286.20" stroke="#9fd0aa" stroke-width="0.8"/>
<text x="654.10" y="241.90" font-size="8.9" text-anchor="start" fill="#111">0-100</text>
<path d="M657.10,259.00 L657.10,250.00 L657.60,242.50 L659.00,241.80 L660.00,243.00 L661.00,241.80 L662.00,244.00 L662.80,245.00 L663.20,258.00 L663.20,259.00 Z" fill="#f07b12"/>
<path d="M663.70,259.00 L663.70,243.90 L665.10,243.90 L665.10,259.00 Z" fill="#f07b12"/>
<path d="M665.10,259.00 L665.10,250.00 L666.50,247.00 L667.50,245.50 L668.30,247.00 L669.10,256.00 L669.10,259.00 Z" fill="#f07b12"/>
<path d="M672.00,259.00 L672.00,256.00 L673.00,250.00 L674.20,246.70 L675.20,248.00 L675.40,258.00 L675.40,259.00 Z" fill="#f07b12"/>
<path d="M659.00,286.20 L659.00,285.90 L660.00,284.60 L661.00,285.90 L661.00,286.20 Z" fill="#127a33"/>
<path d="M664.00,286.20 L664.00,285.90 L665.00,285.00 L666.00,285.90 L666.00,286.20 Z" fill="#127a33"/>
<path d="M668.00,286.20 L668.00,285.90 L669.00,285.10 L670.00,285.90 L670.00,286.20 Z" fill="#127a33"/>
<path d="M672.00,286.20 L672.00,285.90 L673.50,284.80 L675.00,285.90 L675.00,286.20 Z" fill="#127a33"/>
<rect x="658.00" y="296.00" width="18.50" height="2.00" fill="#000" stroke="none" stroke-width="1" rx="1.0"/>
<rect x="658.00" y="295.00" width="4.50" height="4.00" fill="#000" stroke="none" stroke-width="1" rx="1.2"/>
<rect x="663.50" y="295.00" width="4.00" height="4.00" fill="#000" stroke="none" stroke-width="1" rx="1.2"/>
<rect x="668.50" y="295.00" width="4.00" height="4.00" fill="#000" stroke="none" stroke-width="1" rx="1.2"/>
<rect x="673.00" y="295.00" width="3.50" height="4.00" fill="#000" stroke="none" stroke-width="1" rx="1.2"/>
<text x="666.60" y="311.60" font-size="9.4" text-anchor="middle" fill="#111" font-style="italic">GH3.6</text>
<line x1="658.60" y1="242.00" x2="658.60" y2="258.00" stroke="#ffffff" stroke-width="0.45" stroke-opacity="0.75"/>
<line x1="660.40" y1="242.00" x2="660.40" y2="258.00" stroke="#ffffff" stroke-width="0.45" stroke-opacity="0.75"/>
<line x1="666.60" y1="242.00" x2="666.60" y2="258.00" stroke="#ffffff" stroke-width="0.45" stroke-opacity="0.75"/>
<rect x="70.50" y="345.90" width="64.10" height="7.30" fill="#cf3d42" stroke="none" stroke-width="1" rx="0"/>
<text x="68.40" y="351.00" font-size="9.1" text-anchor="end" fill="#111" font-style="italic">SWEET10</text>
<text x="141.20" y="351.90" font-size="9.1" text-anchor="start" fill="#111"><tspan font-style="italic">p</tspan> = 4.21E-145</text>
<rect x="70.50" y="361.20" width="79.10" height="7.30" fill="#cf3d42" stroke="none" stroke-width="1" rx="0"/>
<text x="68.40" y="365.70" font-size="9.1" text-anchor="end" fill="#111" font-style="italic">SWEET11</text>
<text x="155.60" y="365.20" font-size="9.1" text-anchor="start" fill="#111"><tspan font-style="italic">p</tspan> = 2.11E-50</text>
<rect x="70.50" y="376.50" width="64.10" height="7.30" fill="#cf3d42" stroke="none" stroke-width="1" rx="0"/>
<text x="68.40" y="382.10" font-size="9.1" text-anchor="end" fill="#111" font-style="italic">SWEET12</text>
<text x="143.00" y="380.20" font-size="9.1" text-anchor="start" fill="#111"><tspan font-style="italic">p</tspan> = 2.95E-94</text>
<rect x="70.50" y="391.80" width="104.90" height="7.30" fill="#cf3d42" stroke="none" stroke-width="1" rx="0"/>
<text x="63.80" y="396.30" font-size="9.1" text-anchor="end" fill="#111" font-style="italic">SUC1</text>
<text x="179.30" y="395.20" font-size="9.1" text-anchor="start" fill="#111"><tspan font-style="italic">p</tspan> = 6.11E-30</text>
<rect x="70.50" y="407.10" width="126.20" height="7.30" fill="#cf3d42" stroke="none" stroke-width="1" rx="0"/>
<text x="63.80" y="411.80" font-size="9.1" text-anchor="end" fill="#111" font-style="italic">SUC2</text>
<text x="190.60" y="421.10" font-size="9.1" text-anchor="start" fill="#111"><tspan font-style="italic">p</tspan> = 1.72E-118</text>
<rect x="70.50" y="422.40" width="22.00" height="7.30" fill="#cf3d42" stroke="none" stroke-width="1" rx="0"/>
<text x="66.20" y="427.60" font-size="9.1" text-anchor="end" fill="#111" font-style="italic">MYB20</text>
<text x="99.20" y="428.20" font-size="9.1" text-anchor="start" fill="#111"><tspan font-style="italic">p</tspan> = 0.0082</text>
<rect x="70.50" y="437.70" width="15.90" height="7.30" fill="#cf3d42" stroke="none" stroke-width="1" rx="0"/>
<text x="66.20" y="442.80" font-size="9.1" text-anchor="end" fill="#111" font-style="italic">MYB43</text>
<text x="93.90" y="443.40" font-size="9.1" text-anchor="start" fill="#111"><tspan font-style="italic">p</tspan> = 0.0001</text>
<rect x="70.50" y="453.00" width="124.00" height="7.30" fill="#cf3d42" stroke="none" stroke-width="1" rx="0"/>
<text x="66.20" y="458.30" font-size="9.1" text-anchor="end" fill="#111" font-style="italic">NAC026</text>
<text x="196.40" y="457.60" font-size="9.1" text-anchor="start" fill="#111"><tspan font-style="italic">p</tspan> = 1.01E-06</text>
<rect x="70.50" y="468.30" width="75.20" height="7.30" fill="#cf3d42" stroke="none" stroke-width="1" rx="0"/>
<text x="66.20" y="473.50" font-size="9.1" text-anchor="end" fill="#111" font-style="italic">NAC075</text>
<text x="153.00" y="473.60" font-size="9.1" text-anchor="start" fill="#111"><tspan font-style="italic">p</tspan> = 0.0034</text>
<rect x="70.50" y="483.60" width="107.00" height="7.30" fill="#cf3d42" stroke="none" stroke-width="1" rx="0"/>
<text x="66.20" y="489.20" font-size="9.1" text-anchor="end" fill="#111" font-style="italic">NAC105</text>
<text x="183.20" y="488.10" font-size="9.1" text-anchor="start" fill="#111"><tspan font-style="italic">p</tspan> = 2.95E-05</text>
<rect x="70.50" y="341.70" width="180.20" height="154.60" fill="none" stroke="#111" stroke-width="1" rx="0"/>
<line x1="70.50" y1="496.30" x2="70.50" y2="498.50" stroke="#111" stroke-width="0.9"/>
<text x="70.50" y="509.80" font-size="9.6" text-anchor="middle" fill="#111">0</text>
<line x1="106.54" y1="496.30" x2="106.54" y2="498.50" stroke="#111" stroke-width="0.9"/>
<text x="106.54" y="509.80" font-size="9.6" text-anchor="middle" fill="#111">2</text>
<line x1="142.58" y1="496.30" x2="142.58" y2="498.50" stroke="#111" stroke-width="0.9"/>
<text x="142.58" y="509.80" font-size="9.6" text-anchor="middle" fill="#111">4</text>
<line x1="178.62" y1="496.30" x2="178.62" y2="498.50" stroke="#111" stroke-width="0.9"/>
<text x="178.62" y="509.80" font-size="9.6" text-anchor="middle" fill="#111">6</text>
<line x1="214.66" y1="496.30" x2="214.66" y2="498.50" stroke="#111" stroke-width="0.9"/>
<text x="214.66" y="509.80" font-size="9.6" text-anchor="middle" fill="#111">8</text>
<line x1="250.70" y1="496.30" x2="250.70" y2="498.50" stroke="#111" stroke-width="0.9"/>
<text x="250.70" y="509.80" font-size="9.6" text-anchor="middle" fill="#111">10</text>
<text x="160.20" y="523.40" font-size="10.3" text-anchor="middle" fill="#111">log<tspan font-size="7" dy="2">2</tspan><tspan dy="-2">[FC (</tspan><tspan font-style="italic">lec1</tspan>/WT)]</text>
<line x1="25.10" y1="346.00" x2="25.10" y2="410.00" stroke="#5b8ad6" stroke-width="1.3"/>
<line x1="25.10" y1="424.60" x2="25.10" y2="488.60" stroke="#5b8ad6" stroke-width="1.3"/>
<text transform="translate(8.4,376.8) rotate(-90)" font-size="10.2" font-weight="bold" text-anchor="middle" fill="#111">Sucrose</text>
<text transform="translate(21.7,377.6) rotate(-90)" font-size="10.2" font-weight="bold" text-anchor="middle" fill="#111">transport</text>
<text transform="translate(9.0,456.4) rotate(-90)" font-size="10.2" font-weight="bold" text-anchor="middle" fill="#111">Cell wall</text>
<text transform="translate(21.1,456.3) rotate(-90)" font-size="10.2" font-weight="bold" text-anchor="middle" fill="#111">biosynthesis</text>
<line x1="337.50" y1="385.40" x2="356.60" y2="378.50" stroke="#333" stroke-width="0.8"/>
<line x1="337.50" y1="413.10" x2="381.20" y2="414.10" stroke="#333" stroke-width="0.8"/>
<line x1="511.40" y1="357.00" x2="511.40" y2="362.80" stroke="#333" stroke-width="0.8"/>
<line x1="615.90" y1="389.50" x2="621.40" y2="388.20" stroke="#333" stroke-width="0.8"/>
<line x1="633.20" y1="456.80" x2="642.90" y2="469.00" stroke="#333" stroke-width="0.8"/>
<line x1="553.70" y1="494.60" x2="542.90" y2="504.80" stroke="#333" stroke-width="0.8"/>
<line x1="479.30" y1="492.30" x2="487.70" y2="504.80" stroke="#333" stroke-width="0.8"/>
<line x1="337.90" y1="453.50" x2="365.30" y2="440.80" stroke="#333" stroke-width="0.8"/>
<line x1="337.90" y1="491.40" x2="367.50" y2="494.90" stroke="#333" stroke-width="0.8"/>
<rect x="272.90" y="385.10" width="64.60" height="39.20" fill="#c6e0b5" stroke="#a3b898" stroke-width="0.9" rx="0"/>
<text x="305.20" y="400.30" font-size="10.3" text-anchor="middle" fill="#111">Auxin</text>
<text x="305.20" y="412.90" font-size="10.3" text-anchor="middle" fill="#111">biosynthesis</text>
<rect x="443.10" y="339.50" width="91.60" height="17.50" fill="#c6e0b5" stroke="#a3b898" stroke-width="0.9" rx="0"/>
<text x="491.60" y="351.30" font-size="10.3" text-anchor="middle" fill="#111">Photosynthesis</text>
<rect x="621.40" y="349.40" width="60.00" height="39.70" fill="#c6e0b5" stroke="#a3b898" stroke-width="0.9" rx="0"/>
<text x="651.60" y="363.30" font-size="10.3" text-anchor="middle" fill="#111">Sugar</text>
<text x="651.60" y="377.20" font-size="10.3" text-anchor="middle" fill="#111">transport</text>
<rect x="273.60" y="453.30" width="64.30" height="38.30" fill="#c6e0b5" stroke="#a3b898" stroke-width="0.9" rx="0"/>
<text x="305.00" y="466.10" font-size="10.3" text-anchor="middle" fill="#111">Auxin</text>
<text x="305.00" y="478.40" font-size="10.3" text-anchor="middle" fill="#111">transport</text>
<rect x="642.90" y="441.30" width="38.90" height="60.20" fill="#c6e0b5" stroke="#a3b898" stroke-width="0.9" rx="0"/>
<text transform="translate(659.6,472.6) rotate(-90)" font-size="10.3" text-anchor="middle" fill="#111">Cell wall</text>
<text transform="translate(672.9,473.4) rotate(-90)" font-size="10.3" text-anchor="middle" fill="#111">formation</text>
<rect x="474.90" y="504.80" width="99.50" height="15.50" fill="#c6e0b5" stroke="#a3b898" stroke-width="0.9" rx="0"/>
<text x="525.00" y="516.30" font-size="10.3" text-anchor="middle" fill="#111">Auxin signaling</text>
<rect x="356.60" y="357.70" width="69.40" height="36.70" fill="#bdd6ef" stroke="#1f335f" stroke-width="1.3" rx="6"/>
<text x="391.40" y="371.30" font-size="10.3" text-anchor="middle" fill="#000" font-style="italic" stroke="#000" stroke-width="0.05">AGL62, TAA1</text>
<text x="391.70" y="384.20" font-size="10.6" text-anchor="middle" fill="#8a8a8a" font-style="italic">TAR1, YUC10</text>
<rect x="535.70" y="383.60" width="80.20" height="37.80" fill="#bdd6ef" stroke="#1f335f" stroke-width="1.3" rx="7"/>
<text x="575.90" y="403.20" font-size="10.3" text-anchor="middle" fill="#111" font-style="italic">SWEET10/11/12</text>
<text x="575.80" y="416.00" font-size="10.3" text-anchor="middle" fill="#111" font-style="italic">SUC1/2</text>
<rect x="557.30" y="426.40" width="78.30" height="31.30" fill="#bdd6ef" stroke="#1f335f" stroke-width="1.3" rx="6"/>
<text x="596.80" y="439.00" font-size="10.3" text-anchor="middle" fill="#111" font-style="italic">MYB20/43</text>
<text x="596.80" y="451.70" font-size="10.3" text-anchor="middle" fill="#111" font-style="italic">NAC26/75/105</text>
<rect x="365.10" y="430.40" width="62.70" height="50.60" fill="#bdd6ef" stroke="#1f335f" stroke-width="1.3" rx="7"/>
<text x="397.00" y="443.60" font-size="10.3" text-anchor="middle" fill="#111" font-style="italic">IDD14,</text>
<text x="397.00" y="456.90" font-size="10.3" text-anchor="middle" fill="#111" font-style="italic">WAT1</text>
<text x="397.00" y="469.40" font-size="10.3" text-anchor="middle" fill="#111" font-style="italic">AUX1,PIN1</text>
<rect x="449.60" y="460.40" width="64.90" height="32.10" fill="#bdd6ef" stroke="#1f335f" stroke-width="1.3" rx="6"/>
<text x="482.30" y="474.00" font-size="10.3" text-anchor="middle" fill="#111"><tspan font-style="italic">IAAs</tspan>, <tspan font-style="italic">GH3s</tspan>,</text>
<text x="482.30" y="487.30" font-size="10.3" text-anchor="middle" fill="#111">ABF2, ARF6</text>
<rect x="456.00" y="362.80" width="108.10" height="18.30" fill="#ffe598" stroke="#1f335f" stroke-width="1.3" rx="3.5"/>
<text x="511.30" y="374.90" font-size="10.3" text-anchor="middle" fill="#111" font-style="italic">PNSB1/3, CFBP1, etc.</text>
<rect x="381.20" y="402.80" width="44.80" height="19.40" fill="#ffe598" stroke="#1f335f" stroke-width="1.3" rx="3.5"/>
<text x="401.60" y="415.80" font-size="10.6" text-anchor="middle" fill="#111" font-style="italic">YUC11</text>
<rect x="367.50" y="485.00" width="60.80" height="19.60" fill="#ffe598" stroke="#1f335f" stroke-width="1.3" rx="3.5"/>
<text x="399.20" y="498.70" font-size="10.3" text-anchor="middle" fill="#111" font-style="italic">PIN5, PIN8</text>
<rect x="521.60" y="461.00" width="72.60" height="33.80" fill="#ffe598" stroke="#1f335f" stroke-width="1.3" rx="6"/>
<text x="557.60" y="474.00" font-size="10.3" text-anchor="middle" fill="#111" font-style="italic">IAAs,</text>
<text x="557.60" y="486.60" font-size="10.3" text-anchor="middle" fill="#111" font-style="italic">GH3.2,ARF19</text>
<ellipse cx="482.1" cy="413.2" rx="16.4" ry="13.0" fill="#eba3a6" stroke="#333" stroke-width="0.9"/>
<text x="482.20" y="416.90" font-size="11.3" text-anchor="middle" fill="#111">LEC1</text>
<line x1="465.60" y1="403.90" x2="434.17" y2="385.20" stroke="#111" stroke-width="1.4"/>
<path d="M430.30,382.90 L436.79,383.73 L434.13,388.20 Z" fill="#111"/>
<line x1="462.70" y1="412.70" x2="433.90" y2="412.70" stroke="#111" stroke-width="1.2" stroke-dasharray="1.3,1.3"/>
<path d="M429.40,412.70 L435.40,410.10 L435.40,415.30 Z" fill="#111"/>
<line x1="493.30" y1="400.40" x2="500.50" y2="389.64" stroke="#111" stroke-width="1.2" stroke-dasharray="1.3,1.3"/>
<path d="M503.00,385.90 L501.82,392.33 L497.50,389.44 Z" fill="#111"/>
<line x1="502.10" y1="407.40" x2="532.70" y2="407.40" stroke="#111" stroke-width="1.4"/>
<line x1="532.70" y1="411.00" x2="532.70" y2="403.80" stroke="#111" stroke-width="1.4"/>
<line x1="499.50" y1="421.40" x2="554.30" y2="437.20" stroke="#111" stroke-width="1.4"/>
<line x1="553.30" y1="440.66" x2="555.30" y2="433.74" stroke="#111" stroke-width="1.4"/>
<line x1="464.40" y1="422.70" x2="438.10" y2="435.60" stroke="#111" stroke-width="1.4"/>
<line x1="436.51" y1="432.37" x2="439.69" y2="438.83" stroke="#111" stroke-width="1.4"/>
<line x1="471.40" y1="431.40" x2="437.50" y2="478.30" stroke="#111" stroke-width="1.2" stroke-dasharray="1.3,1.3"/>
<line x1="434.58" y1="476.19" x2="440.42" y2="480.41" stroke="#111" stroke-width="1.4"/>
<line x1="484.00" y1="431.40" x2="484.00" y2="457.30" stroke="#111" stroke-width="1.4"/>
<line x1="480.40" y1="457.30" x2="487.60" y2="457.30" stroke="#111" stroke-width="1.4"/>
<line x1="501.70" y1="429.00" x2="524.50" y2="451.40" stroke="#111" stroke-width="1.2" stroke-dasharray="1.3,1.3"/>
<line x1="521.98" y1="453.97" x2="527.02" y2="448.83" stroke="#111" stroke-width="1.4"/>
</svg></body></html>
